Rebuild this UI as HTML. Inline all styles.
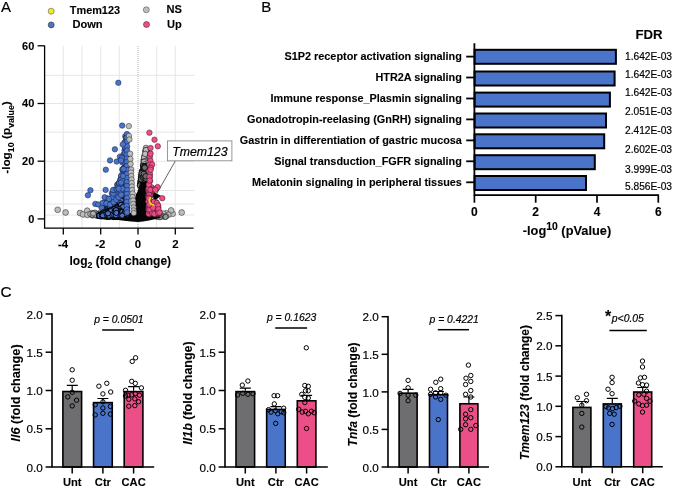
<!DOCTYPE html>
<html><head><meta charset="utf-8"><title>Figure</title>
<style>
html,body{margin:0;padding:0;background:#fff;}
body{width:673px;height:488px;overflow:hidden;font-family:"Liberation Sans",sans-serif;}
svg{display:block;}
text{font-family:"Liberation Sans",sans-serif;fill:#000;}
svg{will-change:transform;}
text{stroke:#000;stroke-width:0.18px;}
.b{font-weight:bold;stroke-width:0.1px;}
.i{font-style:italic;}
</style></head><body>
<svg width="673" height="488" viewBox="0 0 673 488">
<rect width="673" height="488" fill="#fff"/>
<text x="0.9" y="11.8" font-size="15">A</text>
<text x="261.2" y="11.7" font-size="15">B</text>
<text x="0.6" y="296.5" font-size="15.3">C</text>
<g id="A">
<circle cx="51.2" cy="11.2" r="3.0" fill="#f5ee1f" stroke="#555" stroke-width="0.6"/>
<circle cx="51.2" cy="24.9" r="3.0" fill="#4a74c9" stroke="#333" stroke-width="0.6"/>
<circle cx="146.3" cy="9.8" r="3.0" fill="#bdbdbd" stroke="#555" stroke-width="0.6"/>
<circle cx="146.5" cy="24.5" r="3.0" fill="#ec4f88" stroke="#333" stroke-width="0.6"/>
<text class="b" x="69.8" y="13.9" font-size="10.9">Tmem123</text>
<text class="b" x="72.4" y="28" font-size="11.1">Down</text>
<text class="b" x="166.5" y="13" font-size="11.1">NS</text>
<text class="b" x="167" y="27.8" font-size="11.1">Up</text>
<line x1="63.3" y1="46.0" x2="63.3" y2="228.1" stroke="#e3e3e3" stroke-width="0.9"/>
<line x1="82.0" y1="46.0" x2="82.0" y2="228.1" stroke="#e3e3e3" stroke-width="0.9"/>
<line x1="100.7" y1="46.0" x2="100.7" y2="228.1" stroke="#e3e3e3" stroke-width="0.9"/>
<line x1="119.3" y1="46.0" x2="119.3" y2="228.1" stroke="#e3e3e3" stroke-width="0.9"/>
<line x1="156.7" y1="46.0" x2="156.7" y2="228.1" stroke="#e3e3e3" stroke-width="0.9"/>
<line x1="175.3" y1="46.0" x2="175.3" y2="228.1" stroke="#e3e3e3" stroke-width="0.9"/>
<line x1="44.6" y1="75.3" x2="194.4" y2="75.3" stroke="#e3e3e3" stroke-width="0.9"/>
<line x1="44.6" y1="103.5" x2="194.4" y2="103.5" stroke="#e3e3e3" stroke-width="0.9"/>
<line x1="44.6" y1="132.2" x2="194.4" y2="132.2" stroke="#e3e3e3" stroke-width="0.9"/>
<line x1="44.6" y1="161.3" x2="194.4" y2="161.3" stroke="#e3e3e3" stroke-width="0.9"/>
<line x1="44.6" y1="190.5" x2="194.4" y2="190.5" stroke="#e3e3e3" stroke-width="0.9"/>
<line x1="44.6" y1="204.0" x2="194.4" y2="204.0" stroke="#e3e3e3" stroke-width="0.9"/>
<line x1="44.6" y1="215.0" x2="194.4" y2="215.0" stroke="#c8c8c8" stroke-width="0.9" stroke-dasharray="1 1"/>
<line x1="138.0" y1="46.0" x2="138.0" y2="228.1" stroke="#aaa" stroke-width="0.9" stroke-dasharray="1 1"/>
<g fill="#bdbdbd" stroke="#2a2a2a" stroke-width="0.55">
<circle cx="57.7" cy="209.8" r="2.9"/>
<circle cx="65.6" cy="212.5" r="2.9"/>
<circle cx="80.0" cy="213.0" r="2.9"/>
<circle cx="83.0" cy="214.4" r="2.9"/>
<circle cx="87.2" cy="210.7" r="2.9"/>
<circle cx="87.4" cy="214.9" r="2.9"/>
<circle cx="91.6" cy="213.2" r="2.9"/>
<circle cx="95.3" cy="213.4" r="2.9"/>
<circle cx="98.5" cy="214.3" r="2.9"/>
<circle cx="93.0" cy="215.3" r="2.9"/>
<circle cx="100.5" cy="212.6" r="2.9"/>
<circle cx="103.0" cy="214.6" r="2.9"/>
<circle cx="106.0" cy="213.6" r="2.9"/>
<circle cx="109.0" cy="215.0" r="2.9"/>
<circle cx="112.0" cy="214.2" r="2.9"/>
<circle cx="181.7" cy="212.5" r="2.9"/>
<circle cx="172.6" cy="213.8" r="2.9"/>
<circle cx="171.1" cy="210.4" r="2.9"/>
<circle cx="166.4" cy="213.3" r="2.9"/>
<circle cx="168.3" cy="214.8" r="2.9"/>
<circle cx="163.2" cy="213.6" r="2.9"/>
<circle cx="165.9" cy="216.2" r="2.9"/>
<circle cx="160.5" cy="214.6" r="2.9"/>
</g>
<g fill="#9c9c9c" stroke="#111" stroke-width="0.7">
<circle cx="158.5" cy="215.2" r="2.6"/>
<circle cx="161.0" cy="216.3" r="2.6"/>
<circle cx="163.4" cy="216.6" r="2.6"/>
<circle cx="160.0" cy="217.2" r="2.6"/>
<circle cx="157.0" cy="216.8" r="2.6"/>
<circle cx="165.6" cy="216.9" r="2.6"/>
</g>
<g fill="#bdbdbd" stroke="#000" stroke-width="0.5">
<circle cx="145.4" cy="161.5" r="2.75"/>
<circle cx="145.1" cy="156.8" r="2.75"/>
<circle cx="146.6" cy="156.6" r="2.75"/>
<circle cx="143.7" cy="160.2" r="2.75"/>
<circle cx="144.4" cy="161.7" r="2.75"/>
<circle cx="146.0" cy="152.2" r="2.75"/>
<circle cx="143.1" cy="165.8" r="2.75"/>
<circle cx="145.9" cy="147.9" r="2.75"/>
<circle cx="146.2" cy="155.5" r="2.75"/>
<circle cx="145.3" cy="156.4" r="2.75"/>
<circle cx="144.8" cy="158.2" r="2.75"/>
<circle cx="144.3" cy="157.2" r="2.75"/>
<circle cx="146.2" cy="161.7" r="2.75"/>
<circle cx="146.0" cy="158.9" r="2.75"/>
<circle cx="145.4" cy="158.1" r="2.75"/>
<circle cx="144.4" cy="162.7" r="2.75"/>
<circle cx="144.8" cy="162.6" r="2.75"/>
<circle cx="147.2" cy="157.2" r="2.75"/>
<circle cx="144.3" cy="162.7" r="2.75"/>
<circle cx="146.0" cy="156.6" r="2.75"/>
<circle cx="145.6" cy="164.0" r="2.75"/>
<circle cx="144.1" cy="161.4" r="2.75"/>
<circle cx="143.9" cy="164.2" r="2.75"/>
<circle cx="147.0" cy="162.0" r="2.75"/>
<circle cx="147.1" cy="153.0" r="2.75"/>
<circle cx="146.0" cy="163.8" r="2.75"/>
<circle cx="146.5" cy="164.5" r="2.75"/>
<circle cx="146.2" cy="161.0" r="2.75"/>
<circle cx="145.1" cy="155.2" r="2.75"/>
<circle cx="145.7" cy="150.8" r="2.75"/>
<circle cx="144.9" cy="161.1" r="2.75"/>
<circle cx="143.9" cy="159.4" r="2.75"/>
<circle cx="147.0" cy="150.9" r="2.75"/>
<circle cx="146.4" cy="151.3" r="2.75"/>
<circle cx="145.9" cy="155.7" r="2.75"/>
<circle cx="146.2" cy="156.0" r="2.75"/>
<circle cx="146.5" cy="156.2" r="2.75"/>
<circle cx="146.3" cy="152.2" r="2.75"/>
<circle cx="143.1" cy="164.5" r="2.75"/>
<circle cx="144.0" cy="162.3" r="2.75"/>
<circle cx="145.0" cy="162.1" r="2.75"/>
<circle cx="145.5" cy="159.1" r="2.75"/>
<circle cx="143.6" cy="165.3" r="2.75"/>
<circle cx="144.9" cy="162.8" r="2.75"/>
<circle cx="144.5" cy="155.6" r="2.75"/>
<circle cx="145.4" cy="151.1" r="2.75"/>
<circle cx="144.0" cy="159.4" r="2.75"/>
<circle cx="146.2" cy="150.0" r="2.75"/>
<circle cx="144.4" cy="165.1" r="2.75"/>
<circle cx="145.4" cy="158.8" r="2.75"/>
<circle cx="146.8" cy="162.7" r="2.75"/>
<circle cx="145.6" cy="156.1" r="2.75"/>
<circle cx="144.3" cy="159.4" r="2.75"/>
<circle cx="145.3" cy="163.1" r="2.75"/>
<circle cx="146.0" cy="165.8" r="2.75"/>
<circle cx="146.6" cy="162.5" r="2.75"/>
<circle cx="145.0" cy="165.0" r="2.75"/>
<circle cx="145.4" cy="158.7" r="2.75"/>
<circle cx="145.8" cy="161.8" r="2.75"/>
<circle cx="144.3" cy="161.9" r="2.75"/>
<circle cx="146.4" cy="157.5" r="2.75"/>
<circle cx="145.6" cy="158.4" r="2.75"/>
<circle cx="143.9" cy="164.3" r="2.75"/>
<circle cx="145.8" cy="162.3" r="2.75"/>
<circle cx="147.2" cy="162.9" r="2.75"/>
<circle cx="146.1" cy="163.8" r="2.75"/>
<circle cx="143.4" cy="164.6" r="2.75"/>
<circle cx="145.6" cy="150.9" r="2.75"/>
<circle cx="143.7" cy="161.7" r="2.75"/>
<circle cx="144.2" cy="157.5" r="2.75"/>
<circle cx="144.3" cy="161.5" r="2.75"/>
<circle cx="147.1" cy="154.8" r="2.75"/>
<circle cx="145.2" cy="161.3" r="2.75"/>
<circle cx="144.0" cy="161.9" r="2.75"/>
<circle cx="146.8" cy="164.6" r="2.75"/>
<circle cx="146.0" cy="150.0" r="2.75"/>
<circle cx="147.0" cy="163.5" r="2.75"/>
<circle cx="144.7" cy="164.5" r="2.75"/>
<circle cx="145.2" cy="153.9" r="2.75"/>
</g>
<g fill="#6f6f6f" stroke="#000" stroke-width="0.8">
<circle cx="144.9" cy="171.4" r="2.75"/>
<circle cx="143.3" cy="184.2" r="2.75"/>
<circle cx="144.9" cy="173.1" r="2.75"/>
<circle cx="145.9" cy="176.7" r="2.75"/>
<circle cx="141.1" cy="178.4" r="2.75"/>
<circle cx="146.9" cy="185.6" r="2.75"/>
<circle cx="144.8" cy="177.3" r="2.75"/>
<circle cx="141.9" cy="173.8" r="2.75"/>
<circle cx="146.4" cy="171.0" r="2.75"/>
<circle cx="145.2" cy="173.5" r="2.75"/>
<circle cx="145.3" cy="172.9" r="2.75"/>
<circle cx="143.4" cy="171.6" r="2.75"/>
<circle cx="147.2" cy="185.9" r="2.75"/>
<circle cx="145.2" cy="182.2" r="2.75"/>
<circle cx="143.7" cy="166.8" r="2.75"/>
<circle cx="143.2" cy="180.3" r="2.75"/>
<circle cx="142.9" cy="182.3" r="2.75"/>
<circle cx="146.1" cy="185.0" r="2.75"/>
<circle cx="143.4" cy="183.9" r="2.75"/>
<circle cx="142.7" cy="185.5" r="2.75"/>
<circle cx="142.3" cy="180.6" r="2.75"/>
<circle cx="145.4" cy="185.2" r="2.75"/>
<circle cx="141.6" cy="181.1" r="2.75"/>
<circle cx="144.0" cy="174.7" r="2.75"/>
<circle cx="145.7" cy="185.3" r="2.75"/>
<circle cx="146.7" cy="166.3" r="2.75"/>
<circle cx="144.7" cy="182.5" r="2.75"/>
<circle cx="142.7" cy="180.5" r="2.75"/>
<circle cx="143.1" cy="166.1" r="2.75"/>
<circle cx="144.6" cy="168.8" r="2.75"/>
<circle cx="143.4" cy="185.0" r="2.75"/>
<circle cx="146.4" cy="175.1" r="2.75"/>
<circle cx="145.9" cy="183.8" r="2.75"/>
<circle cx="146.8" cy="179.6" r="2.75"/>
<circle cx="144.4" cy="183.2" r="2.75"/>
<circle cx="142.6" cy="170.4" r="2.75"/>
<circle cx="143.0" cy="175.7" r="2.75"/>
<circle cx="146.3" cy="174.7" r="2.75"/>
<circle cx="142.9" cy="176.2" r="2.75"/>
<circle cx="141.4" cy="184.1" r="2.75"/>
<circle cx="142.3" cy="171.2" r="2.75"/>
<circle cx="142.1" cy="175.0" r="2.75"/>
<circle cx="146.7" cy="168.4" r="2.75"/>
<circle cx="144.6" cy="185.5" r="2.75"/>
<circle cx="144.6" cy="178.3" r="2.75"/>
<circle cx="147.0" cy="178.6" r="2.75"/>
<circle cx="145.7" cy="172.4" r="2.75"/>
<circle cx="147.2" cy="166.9" r="2.75"/>
<circle cx="146.5" cy="179.6" r="2.75"/>
<circle cx="145.3" cy="179.6" r="2.75"/>
<circle cx="146.6" cy="181.0" r="2.75"/>
<circle cx="145.7" cy="168.1" r="2.75"/>
<circle cx="146.3" cy="183.7" r="2.75"/>
<circle cx="146.1" cy="170.3" r="2.75"/>
<circle cx="144.2" cy="182.8" r="2.75"/>
<circle cx="143.5" cy="176.5" r="2.75"/>
<circle cx="144.9" cy="175.3" r="2.75"/>
<circle cx="146.3" cy="185.8" r="2.75"/>
<circle cx="143.2" cy="179.3" r="2.75"/>
<circle cx="144.5" cy="179.5" r="2.75"/>
<circle cx="146.4" cy="171.0" r="2.75"/>
<circle cx="143.0" cy="172.3" r="2.75"/>
<circle cx="144.0" cy="178.5" r="2.75"/>
<circle cx="146.7" cy="176.2" r="2.75"/>
<circle cx="145.8" cy="166.2" r="2.75"/>
<circle cx="144.8" cy="183.8" r="2.75"/>
<circle cx="146.6" cy="171.1" r="2.75"/>
<circle cx="145.7" cy="167.2" r="2.75"/>
<circle cx="146.6" cy="181.3" r="2.75"/>
<circle cx="142.8" cy="183.2" r="2.75"/>
<circle cx="143.2" cy="175.4" r="2.75"/>
<circle cx="146.2" cy="182.1" r="2.75"/>
<circle cx="146.9" cy="178.9" r="2.75"/>
<circle cx="143.4" cy="171.4" r="2.75"/>
<circle cx="144.1" cy="176.6" r="2.75"/>
<circle cx="146.5" cy="166.8" r="2.75"/>
<circle cx="143.1" cy="185.6" r="2.75"/>
<circle cx="140.4" cy="183.0" r="2.75"/>
<circle cx="144.4" cy="178.8" r="2.75"/>
<circle cx="146.3" cy="166.5" r="2.75"/>
<circle cx="142.1" cy="171.5" r="2.75"/>
<circle cx="141.9" cy="181.9" r="2.75"/>
<circle cx="143.8" cy="176.7" r="2.75"/>
<circle cx="145.1" cy="176.7" r="2.75"/>
<circle cx="146.9" cy="181.4" r="2.75"/>
<circle cx="142.2" cy="178.2" r="2.75"/>
<circle cx="142.8" cy="172.1" r="2.75"/>
<circle cx="141.9" cy="179.0" r="2.75"/>
<circle cx="144.2" cy="178.5" r="2.75"/>
<circle cx="145.7" cy="176.2" r="2.75"/>
<circle cx="146.2" cy="169.5" r="2.75"/>
<circle cx="140.6" cy="183.8" r="2.75"/>
<circle cx="145.2" cy="184.4" r="2.75"/>
<circle cx="146.7" cy="176.6" r="2.75"/>
<circle cx="145.1" cy="168.9" r="2.75"/>
<circle cx="145.8" cy="183.1" r="2.75"/>
<circle cx="143.3" cy="184.7" r="2.75"/>
<circle cx="142.3" cy="177.3" r="2.75"/>
<circle cx="146.0" cy="179.2" r="2.75"/>
<circle cx="145.5" cy="177.0" r="2.75"/>
<circle cx="147.0" cy="185.5" r="2.75"/>
<circle cx="146.0" cy="174.0" r="2.75"/>
<circle cx="146.8" cy="166.9" r="2.75"/>
<circle cx="142.6" cy="182.6" r="2.75"/>
<circle cx="145.9" cy="174.4" r="2.75"/>
<circle cx="141.9" cy="172.5" r="2.75"/>
<circle cx="140.8" cy="181.4" r="2.75"/>
<circle cx="141.6" cy="181.2" r="2.75"/>
<circle cx="146.2" cy="167.5" r="2.75"/>
<circle cx="145.7" cy="173.4" r="2.75"/>
<circle cx="145.0" cy="182.2" r="2.75"/>
<circle cx="143.5" cy="184.7" r="2.75"/>
<circle cx="140.5" cy="184.8" r="2.75"/>
<circle cx="144.3" cy="176.9" r="2.75"/>
<circle cx="144.1" cy="182.3" r="2.75"/>
<circle cx="144.4" cy="166.6" r="2.75"/>
<circle cx="146.5" cy="182.3" r="2.75"/>
<circle cx="143.7" cy="185.3" r="2.75"/>
<circle cx="142.5" cy="175.1" r="2.75"/>
<circle cx="144.4" cy="174.0" r="2.75"/>
<circle cx="141.4" cy="176.0" r="2.75"/>
<circle cx="143.6" cy="185.3" r="2.75"/>
<circle cx="146.2" cy="169.7" r="2.75"/>
<circle cx="144.3" cy="174.8" r="2.75"/>
<circle cx="141.3" cy="178.3" r="2.75"/>
<circle cx="143.9" cy="174.1" r="2.75"/>
<circle cx="146.6" cy="185.0" r="2.75"/>
<circle cx="146.5" cy="181.6" r="2.75"/>
<circle cx="143.5" cy="172.2" r="2.75"/>
<circle cx="140.9" cy="184.2" r="2.75"/>
<circle cx="140.7" cy="180.6" r="2.75"/>
<circle cx="142.9" cy="178.2" r="2.75"/>
<circle cx="145.4" cy="168.2" r="2.75"/>
<circle cx="144.0" cy="173.8" r="2.75"/>
<circle cx="144.3" cy="168.9" r="2.75"/>
<circle cx="142.5" cy="173.8" r="2.75"/>
<circle cx="144.3" cy="176.9" r="2.75"/>
<circle cx="144.5" cy="182.5" r="2.75"/>
<circle cx="141.8" cy="182.6" r="2.75"/>
<circle cx="146.0" cy="179.7" r="2.75"/>
<circle cx="142.3" cy="183.7" r="2.75"/>
<circle cx="146.9" cy="166.8" r="2.75"/>
<circle cx="141.0" cy="183.3" r="2.75"/>
<circle cx="143.2" cy="182.0" r="2.75"/>
<circle cx="141.3" cy="180.9" r="2.75"/>
<circle cx="145.6" cy="169.8" r="2.75"/>
<circle cx="146.6" cy="178.1" r="2.75"/>
<circle cx="140.6" cy="185.3" r="2.75"/>
<circle cx="145.9" cy="173.1" r="2.75"/>
<circle cx="145.5" cy="173.0" r="2.75"/>
<circle cx="144.4" cy="174.4" r="2.75"/>
<circle cx="142.2" cy="174.9" r="2.75"/>
<circle cx="147.1" cy="182.2" r="2.75"/>
<circle cx="140.6" cy="184.3" r="2.75"/>
<circle cx="146.0" cy="171.7" r="2.75"/>
<circle cx="144.8" cy="167.2" r="2.75"/>
<circle cx="144.0" cy="173.4" r="2.75"/>
<circle cx="141.3" cy="175.9" r="2.75"/>
<circle cx="146.2" cy="178.6" r="2.75"/>
<circle cx="143.3" cy="179.6" r="2.75"/>
<circle cx="141.7" cy="173.3" r="2.75"/>
<circle cx="145.8" cy="183.5" r="2.75"/>
<circle cx="146.3" cy="178.7" r="2.75"/>
<circle cx="143.6" cy="176.7" r="2.75"/>
<circle cx="144.3" cy="175.8" r="2.75"/>
<circle cx="145.7" cy="185.6" r="2.75"/>
<circle cx="145.7" cy="179.8" r="2.75"/>
<circle cx="143.1" cy="181.5" r="2.75"/>
<circle cx="146.3" cy="183.6" r="2.75"/>
<circle cx="145.7" cy="178.4" r="2.75"/>
<circle cx="143.3" cy="180.3" r="2.75"/>
<circle cx="141.2" cy="179.2" r="2.75"/>
<circle cx="144.7" cy="167.7" r="2.75"/>
<circle cx="144.9" cy="176.9" r="2.75"/>
<circle cx="143.1" cy="177.7" r="2.75"/>
<circle cx="144.5" cy="177.5" r="2.75"/>
<circle cx="143.8" cy="173.9" r="2.75"/>
<circle cx="144.5" cy="186.0" r="2.75"/>
<circle cx="145.7" cy="178.6" r="2.75"/>
<circle cx="139.9" cy="185.5" r="2.75"/>
<circle cx="145.6" cy="176.3" r="2.75"/>
</g>
<path d="M106 217.2 L112 216.2 L118 215.6 L123 214.8 L127 213.6 L130 212.8 L132.4 212.6 L133.6 206 L134.6 200 L135.9 194.5 L137.5 191.4 L138.6 188 L139.6 184.8 L141 181.8 L146.9 181.5 L147.2 211 L150 214.6 L155 216.2 L163 216.8 L156 219 L149 220.6 L143 221.6 L138 222 L131 221.6 L120 220.3 L111 218.6 Z" fill="#040404"/>
<g fill="#4a74c9" stroke="#0b1230" stroke-width="0.45">
<circle cx="125.4" cy="213.8" r="2.75"/>
<circle cx="114.8" cy="212.4" r="2.75"/>
<circle cx="118.3" cy="213.8" r="2.75"/>
<circle cx="108.9" cy="214.0" r="2.75"/>
<circle cx="113.9" cy="212.8" r="2.75"/>
<circle cx="105.3" cy="210.2" r="2.75"/>
<circle cx="106.4" cy="212.6" r="2.75"/>
<circle cx="111.1" cy="210.4" r="2.75"/>
<circle cx="117.8" cy="212.5" r="2.75"/>
<circle cx="117.6" cy="211.2" r="2.75"/>
<circle cx="118.4" cy="212.0" r="2.75"/>
<circle cx="112.5" cy="210.2" r="2.75"/>
<circle cx="119.9" cy="209.3" r="2.75"/>
<circle cx="116.1" cy="213.7" r="2.75"/>
<circle cx="116.7" cy="212.1" r="2.75"/>
<circle cx="124.9" cy="209.5" r="2.75"/>
<circle cx="126.0" cy="210.3" r="2.75"/>
<circle cx="119.9" cy="214.0" r="2.75"/>
<circle cx="108.7" cy="210.8" r="2.75"/>
<circle cx="106.9" cy="208.4" r="2.75"/>
<circle cx="118.1" cy="208.4" r="2.75"/>
<circle cx="115.4" cy="211.5" r="2.75"/>
<circle cx="121.2" cy="211.9" r="2.75"/>
<circle cx="114.9" cy="207.8" r="2.75"/>
<circle cx="118.7" cy="211.9" r="2.75"/>
<circle cx="121.4" cy="204.7" r="2.75"/>
<circle cx="108.0" cy="204.3" r="2.75"/>
<circle cx="117.1" cy="208.5" r="2.75"/>
<circle cx="117.9" cy="208.2" r="2.75"/>
<circle cx="114.2" cy="212.6" r="2.75"/>
<circle cx="116.3" cy="207.8" r="2.75"/>
<circle cx="110.3" cy="207.9" r="2.75"/>
<circle cx="111.8" cy="211.8" r="2.75"/>
<circle cx="114.3" cy="202.1" r="2.75"/>
<circle cx="119.4" cy="205.8" r="2.75"/>
<circle cx="106.5" cy="212.0" r="2.75"/>
<circle cx="124.3" cy="209.0" r="2.75"/>
<circle cx="110.9" cy="200.5" r="2.75"/>
<circle cx="120.0" cy="200.7" r="2.75"/>
<circle cx="103.1" cy="206.5" r="2.75"/>
<circle cx="121.5" cy="200.7" r="2.75"/>
<circle cx="111.3" cy="205.0" r="2.75"/>
<circle cx="114.9" cy="202.1" r="2.75"/>
<circle cx="110.7" cy="205.8" r="2.75"/>
<circle cx="104.4" cy="209.6" r="2.75"/>
<circle cx="118.6" cy="199.7" r="2.75"/>
<circle cx="119.7" cy="202.5" r="2.75"/>
<circle cx="109.4" cy="202.2" r="2.75"/>
<circle cx="124.7" cy="206.8" r="2.75"/>
<circle cx="120.8" cy="202.8" r="2.75"/>
<circle cx="123.7" cy="200.7" r="2.75"/>
<circle cx="120.3" cy="200.7" r="2.75"/>
<circle cx="107.4" cy="202.6" r="2.75"/>
<circle cx="105.8" cy="203.5" r="2.75"/>
<circle cx="101.6" cy="207.4" r="2.75"/>
<circle cx="110.2" cy="205.4" r="2.75"/>
<circle cx="126.3" cy="202.7" r="2.75"/>
<circle cx="124.9" cy="196.9" r="2.75"/>
<circle cx="121.0" cy="195.6" r="2.75"/>
<circle cx="115.3" cy="201.1" r="2.75"/>
<circle cx="126.4" cy="203.7" r="2.75"/>
<circle cx="108.2" cy="200.5" r="2.75"/>
<circle cx="123.1" cy="204.2" r="2.75"/>
<circle cx="122.8" cy="197.8" r="2.75"/>
<circle cx="120.0" cy="197.4" r="2.75"/>
<circle cx="119.7" cy="196.5" r="2.75"/>
<circle cx="125.4" cy="198.8" r="2.75"/>
<circle cx="124.9" cy="199.0" r="2.75"/>
<circle cx="126.3" cy="203.3" r="2.75"/>
<circle cx="121.4" cy="196.1" r="2.75"/>
<circle cx="124.4" cy="196.0" r="2.75"/>
<circle cx="105.3" cy="202.1" r="2.75"/>
<circle cx="108.0" cy="201.1" r="2.75"/>
<circle cx="107.0" cy="198.3" r="2.75"/>
<circle cx="115.7" cy="204.1" r="2.75"/>
<circle cx="113.8" cy="196.9" r="2.75"/>
<circle cx="104.1" cy="202.8" r="2.75"/>
<circle cx="106.8" cy="202.6" r="2.75"/>
<circle cx="117.3" cy="198.7" r="2.75"/>
<circle cx="110.4" cy="199.4" r="2.75"/>
<circle cx="115.7" cy="199.3" r="2.75"/>
<circle cx="118.5" cy="190.3" r="2.75"/>
<circle cx="126.1" cy="191.5" r="2.75"/>
<circle cx="117.1" cy="201.3" r="2.75"/>
<circle cx="117.0" cy="196.5" r="2.75"/>
<circle cx="116.9" cy="198.1" r="2.75"/>
<circle cx="126.3" cy="200.6" r="2.75"/>
<circle cx="118.9" cy="192.6" r="2.75"/>
<circle cx="120.5" cy="189.6" r="2.75"/>
<circle cx="126.1" cy="191.6" r="2.75"/>
<circle cx="118.0" cy="194.8" r="2.75"/>
<circle cx="119.3" cy="194.5" r="2.75"/>
<circle cx="122.2" cy="195.3" r="2.75"/>
<circle cx="119.0" cy="195.3" r="2.75"/>
<circle cx="118.6" cy="191.2" r="2.75"/>
<circle cx="121.3" cy="188.2" r="2.75"/>
<circle cx="118.5" cy="198.8" r="2.75"/>
<circle cx="115.1" cy="192.9" r="2.75"/>
<circle cx="115.5" cy="194.8" r="2.75"/>
<circle cx="125.0" cy="190.2" r="2.75"/>
<circle cx="122.3" cy="195.4" r="2.75"/>
<circle cx="119.5" cy="188.3" r="2.75"/>
<circle cx="124.4" cy="197.7" r="2.75"/>
<circle cx="124.2" cy="191.2" r="2.75"/>
<circle cx="115.8" cy="197.6" r="2.75"/>
<circle cx="121.8" cy="192.8" r="2.75"/>
<circle cx="121.6" cy="193.5" r="2.75"/>
<circle cx="119.6" cy="188.2" r="2.75"/>
<circle cx="115.7" cy="192.0" r="2.75"/>
<circle cx="111.8" cy="193.3" r="2.75"/>
<circle cx="112.2" cy="197.3" r="2.75"/>
<circle cx="116.8" cy="196.4" r="2.75"/>
<circle cx="117.3" cy="184.7" r="2.75"/>
<circle cx="118.1" cy="188.4" r="2.75"/>
<circle cx="117.1" cy="189.9" r="2.75"/>
<circle cx="115.8" cy="191.3" r="2.75"/>
<circle cx="124.6" cy="185.0" r="2.75"/>
<circle cx="124.3" cy="194.6" r="2.75"/>
<circle cx="115.7" cy="191.8" r="2.75"/>
<circle cx="126.4" cy="193.1" r="2.75"/>
<circle cx="116.9" cy="192.8" r="2.75"/>
<circle cx="121.0" cy="186.0" r="2.75"/>
<circle cx="113.3" cy="193.5" r="2.75"/>
<circle cx="120.1" cy="188.6" r="2.75"/>
<circle cx="123.9" cy="192.2" r="2.75"/>
<circle cx="114.4" cy="189.9" r="2.75"/>
<circle cx="120.7" cy="192.9" r="2.75"/>
<circle cx="118.2" cy="190.5" r="2.75"/>
<circle cx="113.0" cy="189.9" r="2.75"/>
<circle cx="123.2" cy="182.8" r="2.75"/>
<circle cx="120.1" cy="185.4" r="2.75"/>
<circle cx="120.6" cy="185.7" r="2.75"/>
<circle cx="125.9" cy="190.0" r="2.75"/>
<circle cx="125.2" cy="182.6" r="2.75"/>
<circle cx="120.9" cy="190.6" r="2.75"/>
<circle cx="117.6" cy="184.8" r="2.75"/>
<circle cx="116.6" cy="188.9" r="2.75"/>
<circle cx="119.1" cy="186.4" r="2.75"/>
<circle cx="121.1" cy="186.5" r="2.75"/>
<circle cx="125.8" cy="182.9" r="2.75"/>
<circle cx="120.7" cy="187.9" r="2.75"/>
<circle cx="119.6" cy="182.7" r="2.75"/>
<circle cx="117.9" cy="187.2" r="2.75"/>
<circle cx="126.4" cy="185.0" r="2.75"/>
<circle cx="119.2" cy="182.6" r="2.75"/>
<circle cx="124.8" cy="175.1" r="2.75"/>
<circle cx="126.3" cy="177.3" r="2.75"/>
<circle cx="122.1" cy="178.4" r="2.75"/>
<circle cx="122.1" cy="177.8" r="2.75"/>
<circle cx="126.1" cy="178.4" r="2.75"/>
<circle cx="121.3" cy="176.6" r="2.75"/>
<circle cx="125.4" cy="182.2" r="2.75"/>
<circle cx="119.7" cy="184.7" r="2.75"/>
<circle cx="123.3" cy="172.5" r="2.75"/>
<circle cx="121.1" cy="180.0" r="2.75"/>
<circle cx="119.2" cy="182.8" r="2.75"/>
<circle cx="124.3" cy="177.6" r="2.75"/>
<circle cx="123.1" cy="175.2" r="2.75"/>
<circle cx="125.6" cy="176.6" r="2.75"/>
<circle cx="120.2" cy="179.7" r="2.75"/>
<circle cx="121.5" cy="178.5" r="2.75"/>
<circle cx="121.2" cy="175.6" r="2.75"/>
<circle cx="122.9" cy="178.2" r="2.75"/>
<circle cx="124.7" cy="180.2" r="2.75"/>
<circle cx="125.2" cy="177.0" r="2.75"/>
<circle cx="123.0" cy="169.9" r="2.75"/>
<circle cx="121.2" cy="179.4" r="2.75"/>
<circle cx="123.6" cy="179.8" r="2.75"/>
<circle cx="125.5" cy="173.9" r="2.75"/>
<circle cx="126.1" cy="171.5" r="2.75"/>
<circle cx="124.5" cy="172.9" r="2.75"/>
<circle cx="122.7" cy="170.2" r="2.75"/>
<circle cx="125.5" cy="174.3" r="2.75"/>
<circle cx="126.4" cy="171.5" r="2.75"/>
<circle cx="124.6" cy="163.9" r="2.75"/>
<circle cx="124.0" cy="168.1" r="2.75"/>
<circle cx="122.4" cy="169.3" r="2.75"/>
<circle cx="122.6" cy="162.6" r="2.75"/>
<circle cx="123.4" cy="168.9" r="2.75"/>
<circle cx="124.0" cy="161.3" r="2.75"/>
<circle cx="123.4" cy="155.1" r="2.75"/>
<circle cx="124.5" cy="160.0" r="2.75"/>
<circle cx="126.3" cy="161.0" r="2.75"/>
<circle cx="125.5" cy="162.7" r="2.75"/>
<circle cx="125.0" cy="154.4" r="2.75"/>
<circle cx="126.2" cy="153.7" r="2.75"/>
<circle cx="126.3" cy="159.7" r="2.75"/>
<circle cx="124.9" cy="154.9" r="2.75"/>
<circle cx="124.9" cy="158.6" r="2.75"/>
<circle cx="124.5" cy="150.4" r="2.75"/>
<circle cx="125.3" cy="148.0" r="2.75"/>
<circle cx="126.2" cy="148.2" r="2.75"/>
<circle cx="123.6" cy="154.6" r="2.75"/>
<circle cx="125.2" cy="144.3" r="2.75"/>
<circle cx="125.1" cy="153.0" r="2.75"/>
<circle cx="126.0" cy="141.0" r="2.75"/>
<circle cx="124.7" cy="146.5" r="2.75"/>
<circle cx="124.5" cy="142.4" r="2.75"/>
<circle cx="125.3" cy="136.3" r="2.75"/>
<circle cx="125.9" cy="138.2" r="2.75"/>
</g>
<g fill="#9a9a9a" stroke="#000" stroke-width="0.6">
<circle cx="102.5" cy="212.7" r="2.5"/>
<circle cx="103.4" cy="216.4" r="2.5"/>
<circle cx="110.4" cy="212.4" r="2.5"/>
</g>
<g fill="#b4b4b4" stroke="#000" stroke-width="0.45">
<circle cx="92.9" cy="213.4" r="2.5"/>
</g>
<g fill="#9a9a9a" stroke="#000" stroke-width="0.6">
<circle cx="107.3" cy="214.1" r="2.5"/>
</g>
<g fill="#b4b4b4" stroke="#000" stroke-width="0.45">
<circle cx="95.0" cy="214.1" r="2.5"/>
</g>
<g fill="#9a9a9a" stroke="#000" stroke-width="0.6">
<circle cx="105.2" cy="215.5" r="2.5"/>
<circle cx="101.9" cy="215.1" r="2.5"/>
<circle cx="107.1" cy="214.9" r="2.5"/>
</g>
<g fill="#b4b4b4" stroke="#000" stroke-width="0.45">
<circle cx="91.8" cy="215.3" r="2.5"/>
<circle cx="95.0" cy="212.4" r="2.5"/>
</g>
<g fill="#9a9a9a" stroke="#000" stroke-width="0.6">
<circle cx="103.3" cy="212.3" r="2.5"/>
</g>
<g fill="#b4b4b4" stroke="#000" stroke-width="0.45">
<circle cx="93.0" cy="213.9" r="2.5"/>
</g>
<g fill="#9a9a9a" stroke="#000" stroke-width="0.6">
<circle cx="103.2" cy="212.7" r="2.5"/>
<circle cx="111.3" cy="215.9" r="2.5"/>
<circle cx="103.6" cy="214.8" r="2.5"/>
<circle cx="100.0" cy="216.5" r="2.5"/>
</g>
<g fill="#b4b4b4" stroke="#000" stroke-width="0.45">
<circle cx="94.7" cy="213.5" r="2.5"/>
<circle cx="97.7" cy="216.0" r="2.5"/>
</g>
<g fill="#9a9a9a" stroke="#000" stroke-width="0.6">
<circle cx="104.0" cy="214.0" r="2.5"/>
<circle cx="101.8" cy="216.1" r="2.5"/>
<circle cx="98.6" cy="215.7" r="2.5"/>
<circle cx="107.5" cy="214.2" r="2.5"/>
<circle cx="101.1" cy="214.1" r="2.5"/>
<circle cx="102.9" cy="213.6" r="2.5"/>
<circle cx="106.1" cy="214.0" r="2.5"/>
<circle cx="99.7" cy="215.6" r="2.5"/>
<circle cx="103.0" cy="214.3" r="2.5"/>
<circle cx="110.2" cy="214.2" r="2.5"/>
<circle cx="101.3" cy="216.2" r="2.5"/>
<circle cx="111.7" cy="215.7" r="2.5"/>
<circle cx="101.9" cy="215.2" r="2.5"/>
<circle cx="108.0" cy="213.5" r="2.5"/>
<circle cx="107.8" cy="216.4" r="2.5"/>
<circle cx="106.6" cy="215.1" r="2.5"/>
<circle cx="102.6" cy="215.1" r="2.5"/>
</g>
<g fill="#b4b4b4" stroke="#000" stroke-width="0.45">
<circle cx="97.8" cy="215.6" r="2.5"/>
</g>
<g fill="#9a9a9a" stroke="#000" stroke-width="0.6">
<circle cx="104.6" cy="216.5" r="2.5"/>
<circle cx="100.6" cy="215.3" r="2.5"/>
</g>
<g fill="#b4b4b4" stroke="#000" stroke-width="0.45">
<circle cx="90.1" cy="214.0" r="2.5"/>
</g>
<g fill="#9a9a9a" stroke="#000" stroke-width="0.6">
<circle cx="108.5" cy="213.3" r="2.5"/>
<circle cx="105.9" cy="213.2" r="2.5"/>
<circle cx="101.8" cy="216.6" r="2.5"/>
</g>
<g fill="#b4b4b4" stroke="#000" stroke-width="0.45">
<circle cx="97.0" cy="216.2" r="2.5"/>
<circle cx="92.4" cy="214.8" r="2.5"/>
</g>
<g fill="#9a9a9a" stroke="#000" stroke-width="0.6">
<circle cx="109.3" cy="215.9" r="2.5"/>
<circle cx="101.7" cy="214.8" r="2.5"/>
<circle cx="107.6" cy="215.6" r="2.5"/>
<circle cx="108.1" cy="214.7" r="2.5"/>
<circle cx="98.5" cy="215.3" r="2.5"/>
<circle cx="105.0" cy="214.6" r="2.5"/>
<circle cx="111.8" cy="212.8" r="2.5"/>
<circle cx="108.7" cy="213.6" r="2.5"/>
<circle cx="107.8" cy="216.4" r="2.5"/>
<circle cx="99.0" cy="214.7" r="2.5"/>
<circle cx="104.4" cy="214.4" r="2.5"/>
</g>
<g fill="#b4b4b4" stroke="#000" stroke-width="0.45">
<circle cx="96.2" cy="215.0" r="2.5"/>
</g>
<g fill="#9a9a9a" stroke="#000" stroke-width="0.6">
<circle cx="110.4" cy="215.1" r="2.5"/>
<circle cx="99.4" cy="215.7" r="2.5"/>
<circle cx="102.3" cy="212.8" r="2.5"/>
<circle cx="105.8" cy="214.2" r="2.5"/>
<circle cx="104.4" cy="216.6" r="2.5"/>
<circle cx="105.1" cy="216.4" r="2.5"/>
<circle cx="100.8" cy="215.5" r="2.5"/>
</g>
<g fill="#b4b4b4" stroke="#000" stroke-width="0.45">
<circle cx="93.1" cy="213.5" r="2.5"/>
</g>
<g fill="#9a9a9a" stroke="#000" stroke-width="0.6">
<circle cx="107.2" cy="215.2" r="2.5"/>
<circle cx="109.4" cy="213.9" r="2.5"/>
<circle cx="99.0" cy="213.8" r="2.5"/>
<circle cx="104.5" cy="212.3" r="2.5"/>
<circle cx="101.3" cy="215.1" r="2.5"/>
</g>
<g fill="#0a0a0a" stroke="#000" stroke-width="0.4">
<circle cx="109.1" cy="215.8" r="2.3"/>
<circle cx="124.3" cy="217.2" r="2.3"/>
<circle cx="111.2" cy="215.3" r="2.3"/>
<circle cx="108.5" cy="215.3" r="2.3"/>
<circle cx="122.7" cy="216.5" r="2.3"/>
<circle cx="111.6" cy="216.1" r="2.3"/>
<circle cx="120.6" cy="213.9" r="2.3"/>
<circle cx="123.2" cy="216.9" r="2.3"/>
<circle cx="110.4" cy="216.7" r="2.3"/>
<circle cx="120.7" cy="215.1" r="2.3"/>
<circle cx="124.4" cy="214.3" r="2.3"/>
<circle cx="116.0" cy="215.3" r="2.3"/>
<circle cx="115.3" cy="216.9" r="2.3"/>
<circle cx="118.0" cy="216.2" r="2.3"/>
<circle cx="126.7" cy="214.2" r="2.3"/>
<circle cx="110.7" cy="216.5" r="2.3"/>
<circle cx="109.2" cy="217.4" r="2.3"/>
<circle cx="113.2" cy="215.9" r="2.3"/>
<circle cx="115.1" cy="217.0" r="2.3"/>
<circle cx="125.2" cy="216.2" r="2.3"/>
<circle cx="109.6" cy="215.8" r="2.3"/>
<circle cx="120.8" cy="214.6" r="2.3"/>
<circle cx="124.5" cy="217.0" r="2.3"/>
<circle cx="110.8" cy="215.8" r="2.3"/>
<circle cx="110.8" cy="216.7" r="2.3"/>
<circle cx="107.0" cy="216.8" r="2.3"/>
<circle cx="107.3" cy="217.1" r="2.3"/>
<circle cx="117.4" cy="216.1" r="2.3"/>
<circle cx="108.0" cy="215.2" r="2.3"/>
<circle cx="113.4" cy="217.5" r="2.3"/>
<circle cx="118.6" cy="217.0" r="2.3"/>
<circle cx="107.3" cy="215.4" r="2.3"/>
<circle cx="106.4" cy="216.8" r="2.3"/>
<circle cx="109.7" cy="215.6" r="2.3"/>
<circle cx="120.0" cy="216.4" r="2.3"/>
<circle cx="112.8" cy="216.0" r="2.3"/>
<circle cx="112.1" cy="216.3" r="2.3"/>
<circle cx="113.5" cy="215.6" r="2.3"/>
<circle cx="111.2" cy="215.6" r="2.3"/>
<circle cx="111.5" cy="214.8" r="2.3"/>
<circle cx="112.5" cy="216.3" r="2.3"/>
<circle cx="111.6" cy="215.0" r="2.3"/>
<circle cx="123.8" cy="215.4" r="2.3"/>
<circle cx="116.7" cy="215.2" r="2.3"/>
<circle cx="124.6" cy="216.5" r="2.3"/>
<circle cx="119.1" cy="216.3" r="2.3"/>
<circle cx="120.5" cy="215.7" r="2.3"/>
<circle cx="114.7" cy="215.6" r="2.3"/>
<circle cx="116.6" cy="215.8" r="2.3"/>
<circle cx="117.1" cy="216.0" r="2.3"/>
<circle cx="122.6" cy="217.1" r="2.3"/>
<circle cx="110.7" cy="214.9" r="2.3"/>
<circle cx="112.3" cy="214.8" r="2.3"/>
<circle cx="122.7" cy="216.0" r="2.3"/>
<circle cx="112.0" cy="215.2" r="2.3"/>
<circle cx="124.2" cy="216.8" r="2.3"/>
<circle cx="120.4" cy="216.4" r="2.3"/>
<circle cx="121.6" cy="215.4" r="2.3"/>
<circle cx="114.3" cy="216.1" r="2.3"/>
<circle cx="124.5" cy="217.5" r="2.3"/>
<circle cx="125.3" cy="216.8" r="2.3"/>
<circle cx="107.6" cy="215.7" r="2.3"/>
<circle cx="126.4" cy="215.6" r="2.3"/>
<circle cx="116.8" cy="215.2" r="2.3"/>
<circle cx="124.1" cy="215.6" r="2.3"/>
<circle cx="126.8" cy="213.5" r="2.3"/>
<circle cx="126.9" cy="213.3" r="2.3"/>
<circle cx="109.1" cy="216.0" r="2.3"/>
<circle cx="119.4" cy="214.3" r="2.3"/>
<circle cx="117.8" cy="217.3" r="2.3"/>
<circle cx="115.1" cy="216.8" r="2.3"/>
<circle cx="118.4" cy="216.1" r="2.3"/>
<circle cx="109.6" cy="216.1" r="2.3"/>
<circle cx="124.9" cy="216.2" r="2.3"/>
<circle cx="110.6" cy="216.0" r="2.3"/>
<circle cx="117.4" cy="215.3" r="2.3"/>
<circle cx="118.1" cy="216.2" r="2.3"/>
<circle cx="106.4" cy="215.8" r="2.3"/>
<circle cx="119.8" cy="214.7" r="2.3"/>
<circle cx="107.5" cy="216.9" r="2.3"/>
<circle cx="113.0" cy="217.4" r="2.3"/>
<circle cx="117.7" cy="214.5" r="2.3"/>
<circle cx="119.4" cy="214.9" r="2.3"/>
<circle cx="123.1" cy="216.4" r="2.3"/>
<circle cx="121.9" cy="213.9" r="2.3"/>
<circle cx="106.7" cy="217.0" r="2.3"/>
<circle cx="109.0" cy="215.5" r="2.3"/>
<circle cx="106.6" cy="215.6" r="2.3"/>
<circle cx="115.9" cy="217.4" r="2.3"/>
<circle cx="112.7" cy="215.4" r="2.3"/>
<circle cx="123.4" cy="214.3" r="2.3"/>
<circle cx="119.3" cy="216.1" r="2.3"/>
<circle cx="125.6" cy="213.5" r="2.3"/>
<circle cx="117.8" cy="215.4" r="2.3"/>
<circle cx="123.3" cy="214.6" r="2.3"/>
<circle cx="121.0" cy="214.5" r="2.3"/>
<circle cx="116.4" cy="217.4" r="2.3"/>
<circle cx="111.0" cy="215.6" r="2.3"/>
<circle cx="125.3" cy="216.2" r="2.3"/>
<circle cx="107.4" cy="215.6" r="2.3"/>
<circle cx="111.0" cy="215.6" r="2.3"/>
<circle cx="123.7" cy="216.3" r="2.3"/>
<circle cx="126.6" cy="216.1" r="2.3"/>
<circle cx="119.2" cy="215.3" r="2.3"/>
<circle cx="121.1" cy="215.6" r="2.3"/>
<circle cx="107.2" cy="216.3" r="2.3"/>
<circle cx="114.1" cy="216.1" r="2.3"/>
<circle cx="107.0" cy="215.3" r="2.3"/>
<circle cx="126.6" cy="214.8" r="2.3"/>
<circle cx="112.9" cy="215.0" r="2.3"/>
<circle cx="118.4" cy="217.2" r="2.3"/>
<circle cx="109.8" cy="216.2" r="2.3"/>
<circle cx="116.5" cy="216.7" r="2.3"/>
<circle cx="117.9" cy="214.9" r="2.3"/>
<circle cx="110.0" cy="216.8" r="2.3"/>
<circle cx="107.6" cy="217.2" r="2.3"/>
<circle cx="106.7" cy="215.7" r="2.3"/>
<circle cx="115.8" cy="217.0" r="2.3"/>
<circle cx="119.0" cy="216.6" r="2.3"/>
<circle cx="122.0" cy="216.4" r="2.3"/>
</g>
<g fill="#4a74c9" stroke="#02040f" stroke-width="0.75">
<circle cx="108.0" cy="212.8" r="2.6"/>
<circle cx="109.9" cy="208.0" r="2.6"/>
<circle cx="107.7" cy="207.2" r="2.6"/>
<circle cx="124.1" cy="206.4" r="2.6"/>
<circle cx="108.7" cy="207.0" r="2.6"/>
<circle cx="123.5" cy="209.4" r="2.6"/>
<circle cx="124.9" cy="199.2" r="2.6"/>
<circle cx="109.2" cy="209.3" r="2.6"/>
<circle cx="110.7" cy="207.1" r="2.6"/>
<circle cx="110.9" cy="211.5" r="2.6"/>
<circle cx="110.3" cy="207.9" r="2.6"/>
<circle cx="117.4" cy="208.0" r="2.6"/>
<circle cx="109.9" cy="211.2" r="2.6"/>
<circle cx="116.9" cy="208.3" r="2.6"/>
<circle cx="116.2" cy="203.4" r="2.6"/>
<circle cx="119.0" cy="205.2" r="2.6"/>
<circle cx="113.5" cy="203.8" r="2.6"/>
<circle cx="124.3" cy="209.1" r="2.6"/>
<circle cx="114.6" cy="210.2" r="2.6"/>
<circle cx="125.3" cy="201.7" r="2.6"/>
<circle cx="114.5" cy="211.5" r="2.6"/>
<circle cx="114.3" cy="211.6" r="2.6"/>
<circle cx="124.7" cy="199.4" r="2.6"/>
<circle cx="112.5" cy="208.4" r="2.6"/>
<circle cx="121.6" cy="211.6" r="2.6"/>
<circle cx="120.6" cy="212.9" r="2.6"/>
<circle cx="110.6" cy="209.8" r="2.6"/>
<circle cx="123.6" cy="211.2" r="2.6"/>
<circle cx="109.2" cy="213.5" r="2.6"/>
<circle cx="121.4" cy="212.4" r="2.6"/>
<circle cx="114.1" cy="210.8" r="2.6"/>
<circle cx="125.7" cy="212.5" r="2.6"/>
<circle cx="118.3" cy="212.7" r="2.6"/>
<circle cx="126.5" cy="211.8" r="2.6"/>
<circle cx="119.8" cy="213.3" r="2.6"/>
<circle cx="109.8" cy="210.1" r="2.6"/>
<circle cx="118.0" cy="204.5" r="2.6"/>
<circle cx="122.2" cy="201.2" r="2.6"/>
<circle cx="119.3" cy="206.3" r="2.6"/>
<circle cx="113.3" cy="210.9" r="2.6"/>
<circle cx="110.7" cy="210.2" r="2.6"/>
<circle cx="123.7" cy="213.5" r="2.6"/>
<circle cx="112.1" cy="209.2" r="2.6"/>
<circle cx="120.5" cy="204.6" r="2.6"/>
<circle cx="123.6" cy="203.7" r="2.6"/>
<circle cx="117.9" cy="207.5" r="2.6"/>
<circle cx="107.0" cy="206.8" r="2.6"/>
<circle cx="107.0" cy="210.2" r="2.6"/>
<circle cx="112.4" cy="213.5" r="2.6"/>
<circle cx="119.4" cy="202.6" r="2.6"/>
<circle cx="121.0" cy="205.1" r="2.6"/>
<circle cx="116.4" cy="211.5" r="2.6"/>
<circle cx="123.7" cy="213.0" r="2.6"/>
<circle cx="115.2" cy="207.9" r="2.6"/>
<circle cx="114.8" cy="208.0" r="2.6"/>
<circle cx="121.5" cy="208.1" r="2.6"/>
<circle cx="120.4" cy="204.0" r="2.6"/>
<circle cx="122.3" cy="213.3" r="2.6"/>
<circle cx="111.0" cy="211.3" r="2.6"/>
<circle cx="110.2" cy="206.1" r="2.6"/>
<circle cx="115.1" cy="206.4" r="2.6"/>
<circle cx="121.2" cy="209.4" r="2.6"/>
<circle cx="120.2" cy="213.3" r="2.6"/>
<circle cx="108.1" cy="208.0" r="2.6"/>
<circle cx="107.7" cy="210.9" r="2.6"/>
<circle cx="123.1" cy="210.4" r="2.6"/>
<circle cx="117.7" cy="212.5" r="2.6"/>
<circle cx="114.3" cy="205.7" r="2.6"/>
<circle cx="119.5" cy="201.4" r="2.6"/>
<circle cx="111.5" cy="205.4" r="2.6"/>
<circle cx="110.2" cy="206.6" r="2.6"/>
<circle cx="117.4" cy="204.7" r="2.6"/>
<circle cx="118.8" cy="212.1" r="2.6"/>
<circle cx="113.7" cy="206.0" r="2.6"/>
<circle cx="120.1" cy="211.2" r="2.6"/>
<circle cx="124.2" cy="208.7" r="2.6"/>
<circle cx="118.4" cy="212.5" r="2.6"/>
<circle cx="120.2" cy="213.4" r="2.6"/>
<circle cx="112.6" cy="212.2" r="2.6"/>
<circle cx="119.3" cy="208.6" r="2.6"/>
<circle cx="107.2" cy="211.1" r="2.6"/>
<circle cx="112.1" cy="211.1" r="2.6"/>
<circle cx="116.9" cy="209.5" r="2.6"/>
<circle cx="108.1" cy="208.3" r="2.6"/>
<circle cx="118.8" cy="210.9" r="2.6"/>
<circle cx="126.3" cy="211.3" r="2.6"/>
<circle cx="112.7" cy="209.8" r="2.6"/>
<circle cx="116.9" cy="212.1" r="2.6"/>
<circle cx="114.7" cy="213.1" r="2.6"/>
<circle cx="116.4" cy="208.5" r="2.6"/>
<circle cx="116.4" cy="208.1" r="2.6"/>
<circle cx="126.5" cy="198.8" r="2.6"/>
<circle cx="114.8" cy="204.9" r="2.6"/>
<circle cx="120.2" cy="204.0" r="2.6"/>
<circle cx="109.9" cy="210.2" r="2.6"/>
<circle cx="118.7" cy="211.6" r="2.6"/>
<circle cx="115.7" cy="207.6" r="2.6"/>
<circle cx="114.2" cy="212.9" r="2.6"/>
<circle cx="111.2" cy="205.1" r="2.6"/>
<circle cx="124.3" cy="207.8" r="2.6"/>
<circle cx="109.6" cy="207.8" r="2.6"/>
<circle cx="124.4" cy="211.0" r="2.6"/>
<circle cx="108.3" cy="212.0" r="2.6"/>
<circle cx="111.2" cy="210.1" r="2.6"/>
<circle cx="118.8" cy="202.5" r="2.6"/>
<circle cx="125.2" cy="205.5" r="2.6"/>
<circle cx="109.8" cy="212.4" r="2.6"/>
<circle cx="109.1" cy="206.7" r="2.6"/>
<circle cx="119.7" cy="208.5" r="2.6"/>
<circle cx="124.6" cy="211.4" r="2.6"/>
<circle cx="111.0" cy="205.9" r="2.6"/>
<circle cx="118.8" cy="208.7" r="2.6"/>
<circle cx="112.9" cy="213.1" r="2.6"/>
<circle cx="111.1" cy="211.5" r="2.6"/>
<circle cx="108.4" cy="213.2" r="2.6"/>
<circle cx="125.5" cy="209.3" r="2.6"/>
<circle cx="113.2" cy="211.8" r="2.6"/>
<circle cx="124.6" cy="211.5" r="2.6"/>
<circle cx="107.8" cy="211.1" r="2.6"/>
<circle cx="109.7" cy="211.1" r="2.6"/>
<circle cx="125.5" cy="212.2" r="2.6"/>
<circle cx="111.9" cy="210.7" r="2.6"/>
<circle cx="113.2" cy="206.9" r="2.6"/>
<circle cx="121.5" cy="211.3" r="2.6"/>
<circle cx="113.6" cy="209.3" r="2.6"/>
<circle cx="120.6" cy="211.1" r="2.6"/>
<circle cx="116.0" cy="205.0" r="2.6"/>
<circle cx="108.9" cy="208.4" r="2.6"/>
<circle cx="123.1" cy="208.2" r="2.6"/>
<circle cx="119.6" cy="207.3" r="2.6"/>
<circle cx="114.2" cy="206.6" r="2.6"/>
<circle cx="126.0" cy="209.1" r="2.6"/>
<circle cx="109.5" cy="212.0" r="2.6"/>
<circle cx="118.7" cy="210.2" r="2.6"/>
<circle cx="122.0" cy="209.7" r="2.6"/>
<circle cx="124.1" cy="213.3" r="2.6"/>
<circle cx="114.9" cy="211.0" r="2.6"/>
<circle cx="114.3" cy="209.1" r="2.6"/>
<circle cx="114.1" cy="211.1" r="2.6"/>
<circle cx="113.9" cy="208.6" r="2.6"/>
<circle cx="123.5" cy="211.6" r="2.6"/>
<circle cx="120.2" cy="212.2" r="2.6"/>
<circle cx="114.5" cy="211.0" r="2.6"/>
<circle cx="111.9" cy="208.8" r="2.6"/>
<circle cx="109.0" cy="212.6" r="2.6"/>
<circle cx="125.0" cy="205.0" r="2.6"/>
<circle cx="114.4" cy="205.7" r="2.6"/>
<circle cx="109.8" cy="211.6" r="2.6"/>
<circle cx="124.4" cy="200.9" r="2.6"/>
<circle cx="112.0" cy="212.1" r="2.6"/>
<circle cx="111.4" cy="212.9" r="2.6"/>
<circle cx="113.9" cy="209.7" r="2.6"/>
<circle cx="110.9" cy="208.9" r="2.6"/>
<circle cx="115.3" cy="207.5" r="2.6"/>
<circle cx="121.2" cy="200.7" r="2.6"/>
<circle cx="119.5" cy="211.9" r="2.6"/>
<circle cx="113.4" cy="207.1" r="2.6"/>
<circle cx="109.3" cy="207.2" r="2.6"/>
<circle cx="122.4" cy="209.6" r="2.6"/>
<circle cx="107.3" cy="210.9" r="2.6"/>
<circle cx="118.7" cy="207.0" r="2.6"/>
<circle cx="107.7" cy="210.7" r="2.6"/>
<circle cx="113.9" cy="213.4" r="2.6"/>
<circle cx="114.0" cy="213.1" r="2.6"/>
<circle cx="123.9" cy="209.0" r="2.6"/>
<circle cx="109.5" cy="212.6" r="2.6"/>
<circle cx="108.8" cy="211.3" r="2.6"/>
<circle cx="108.9" cy="207.6" r="2.6"/>
<circle cx="115.0" cy="206.0" r="2.6"/>
<circle cx="126.3" cy="208.7" r="2.6"/>
<circle cx="124.5" cy="213.2" r="2.6"/>
<circle cx="121.8" cy="210.1" r="2.6"/>
<circle cx="116.2" cy="211.9" r="2.6"/>
<circle cx="120.1" cy="204.2" r="2.6"/>
<circle cx="117.3" cy="208.4" r="2.6"/>
<circle cx="117.1" cy="211.3" r="2.6"/>
<circle cx="120.4" cy="209.5" r="2.6"/>
<circle cx="122.4" cy="211.9" r="2.6"/>
<circle cx="108.8" cy="208.2" r="2.6"/>
<circle cx="107.9" cy="208.7" r="2.6"/>
<circle cx="125.7" cy="204.9" r="2.6"/>
<circle cx="115.6" cy="209.3" r="2.6"/>
<circle cx="118.0" cy="206.7" r="2.6"/>
<circle cx="122.2" cy="206.2" r="2.6"/>
<circle cx="123.5" cy="211.6" r="2.6"/>
<circle cx="107.0" cy="211.5" r="2.6"/>
<circle cx="108.8" cy="213.0" r="2.6"/>
<circle cx="108.4" cy="209.4" r="2.6"/>
<circle cx="122.0" cy="209.5" r="2.6"/>
<circle cx="120.0" cy="207.8" r="2.6"/>
<circle cx="117.2" cy="205.9" r="2.6"/>
<circle cx="116.0" cy="207.0" r="2.6"/>
<circle cx="120.2" cy="203.2" r="2.6"/>
<circle cx="109.7" cy="208.4" r="2.6"/>
<circle cx="117.4" cy="210.1" r="2.6"/>
<circle cx="107.1" cy="213.5" r="2.6"/>
<circle cx="123.3" cy="206.6" r="2.6"/>
<circle cx="110.1" cy="212.7" r="2.6"/>
<circle cx="126.1" cy="202.4" r="2.6"/>
<circle cx="121.7" cy="211.9" r="2.6"/>
</g>
<g fill="#4a74c9" stroke="#000" stroke-width="1.0">
<circle cx="125.1" cy="206.7" r="2.6"/>
<circle cx="102.3" cy="214.5" r="2.6"/>
<circle cx="105.4" cy="215.5" r="2.6"/>
<circle cx="124.3" cy="210.3" r="2.6"/>
<circle cx="102.5" cy="214.8" r="2.6"/>
<circle cx="105.7" cy="214.8" r="2.6"/>
<circle cx="119.0" cy="214.1" r="2.6"/>
<circle cx="111.1" cy="213.1" r="2.6"/>
<circle cx="112.0" cy="212.3" r="2.6"/>
<circle cx="111.7" cy="214.2" r="2.6"/>
<circle cx="118.8" cy="210.1" r="2.6"/>
<circle cx="114.8" cy="209.7" r="2.6"/>
<circle cx="100.3" cy="215.4" r="2.6"/>
<circle cx="109.0" cy="211.1" r="2.6"/>
<circle cx="101.2" cy="215.2" r="2.6"/>
<circle cx="125.2" cy="214.2" r="2.6"/>
<circle cx="99.8" cy="215.5" r="2.6"/>
<circle cx="109.2" cy="212.8" r="2.6"/>
<circle cx="102.8" cy="215.1" r="2.6"/>
<circle cx="122.3" cy="209.7" r="2.6"/>
<circle cx="103.9" cy="213.7" r="2.6"/>
<circle cx="99.4" cy="215.7" r="2.6"/>
<circle cx="105.4" cy="215.1" r="2.6"/>
<circle cx="121.0" cy="206.4" r="2.6"/>
<circle cx="104.3" cy="214.2" r="2.6"/>
<circle cx="120.4" cy="213.6" r="2.6"/>
<circle cx="107.4" cy="213.9" r="2.6"/>
<circle cx="108.9" cy="213.6" r="2.6"/>
<circle cx="121.1" cy="208.7" r="2.6"/>
<circle cx="121.5" cy="215.1" r="2.6"/>
<circle cx="115.7" cy="215.5" r="2.6"/>
<circle cx="125.1" cy="206.2" r="2.6"/>
<circle cx="126.6" cy="206.1" r="2.6"/>
<circle cx="121.4" cy="206.8" r="2.6"/>
<circle cx="107.4" cy="213.8" r="2.6"/>
<circle cx="122.3" cy="212.9" r="2.6"/>
<circle cx="104.7" cy="215.6" r="2.6"/>
<circle cx="123.1" cy="211.0" r="2.6"/>
<circle cx="100.4" cy="215.3" r="2.6"/>
<circle cx="107.1" cy="213.8" r="2.6"/>
<circle cx="125.2" cy="211.5" r="2.6"/>
<circle cx="121.8" cy="205.9" r="2.6"/>
<circle cx="105.8" cy="215.1" r="2.6"/>
<circle cx="108.5" cy="212.6" r="2.6"/>
<circle cx="100.8" cy="214.9" r="2.6"/>
<circle cx="110.5" cy="213.7" r="2.6"/>
<circle cx="110.1" cy="213.8" r="2.6"/>
<circle cx="107.1" cy="211.8" r="2.6"/>
<circle cx="117.7" cy="210.5" r="2.6"/>
<circle cx="112.7" cy="212.2" r="2.6"/>
<circle cx="106.5" cy="212.4" r="2.6"/>
<circle cx="107.2" cy="213.3" r="2.6"/>
<circle cx="102.2" cy="214.2" r="2.6"/>
<circle cx="112.4" cy="209.4" r="2.6"/>
<circle cx="123.4" cy="209.2" r="2.6"/>
<circle cx="111.3" cy="213.4" r="2.6"/>
<circle cx="99.7" cy="215.4" r="2.6"/>
<circle cx="120.8" cy="211.9" r="2.6"/>
<circle cx="112.7" cy="212.0" r="2.6"/>
<circle cx="119.9" cy="211.6" r="2.6"/>
<circle cx="121.0" cy="214.4" r="2.6"/>
<circle cx="123.8" cy="213.1" r="2.6"/>
<circle cx="117.7" cy="211.6" r="2.6"/>
<circle cx="113.8" cy="213.3" r="2.6"/>
<circle cx="113.6" cy="214.8" r="2.6"/>
<circle cx="122.9" cy="205.1" r="2.6"/>
<circle cx="119.9" cy="212.6" r="2.6"/>
<circle cx="115.6" cy="215.2" r="2.6"/>
<circle cx="100.4" cy="215.5" r="2.6"/>
<circle cx="109.4" cy="215.6" r="2.6"/>
<circle cx="103.6" cy="215.0" r="2.6"/>
<circle cx="103.0" cy="215.4" r="2.6"/>
<circle cx="112.6" cy="214.4" r="2.6"/>
<circle cx="107.5" cy="215.4" r="2.6"/>
<circle cx="99.2" cy="215.7" r="2.6"/>
<circle cx="119.4" cy="214.8" r="2.6"/>
<circle cx="120.6" cy="209.0" r="2.6"/>
<circle cx="101.3" cy="215.5" r="2.6"/>
<circle cx="119.3" cy="206.8" r="2.6"/>
<circle cx="125.0" cy="210.8" r="2.6"/>
<circle cx="99.9" cy="215.6" r="2.6"/>
<circle cx="108.4" cy="211.9" r="2.6"/>
<circle cx="123.6" cy="215.2" r="2.6"/>
<circle cx="102.4" cy="215.0" r="2.6"/>
<circle cx="106.6" cy="214.8" r="2.6"/>
<circle cx="102.1" cy="214.9" r="2.6"/>
<circle cx="110.4" cy="213.3" r="2.6"/>
<circle cx="111.1" cy="213.8" r="2.6"/>
<circle cx="125.1" cy="215.1" r="2.6"/>
<circle cx="124.2" cy="214.1" r="2.6"/>
<circle cx="105.3" cy="213.7" r="2.6"/>
<circle cx="111.8" cy="214.0" r="2.6"/>
<circle cx="115.9" cy="211.1" r="2.6"/>
<circle cx="126.6" cy="207.7" r="2.6"/>
<circle cx="99.5" cy="215.5" r="2.6"/>
<circle cx="104.8" cy="215.2" r="2.6"/>
<circle cx="122.4" cy="205.1" r="2.6"/>
<circle cx="105.6" cy="213.6" r="2.6"/>
<circle cx="120.9" cy="214.9" r="2.6"/>
<circle cx="106.3" cy="212.7" r="2.6"/>
<circle cx="125.9" cy="215.5" r="2.6"/>
<circle cx="118.9" cy="211.5" r="2.6"/>
<circle cx="119.8" cy="213.9" r="2.6"/>
<circle cx="113.2" cy="211.3" r="2.6"/>
<circle cx="113.6" cy="213.8" r="2.6"/>
<circle cx="108.0" cy="214.5" r="2.6"/>
<circle cx="103.1" cy="215.8" r="2.6"/>
<circle cx="104.9" cy="213.8" r="2.6"/>
<circle cx="125.7" cy="215.3" r="2.6"/>
<circle cx="124.7" cy="214.2" r="2.6"/>
<circle cx="122.6" cy="214.2" r="2.6"/>
<circle cx="114.8" cy="209.0" r="2.6"/>
<circle cx="119.3" cy="214.5" r="2.6"/>
<circle cx="122.3" cy="205.2" r="2.6"/>
<circle cx="100.7" cy="215.6" r="2.6"/>
<circle cx="112.6" cy="215.2" r="2.6"/>
<circle cx="126.5" cy="209.5" r="2.6"/>
<circle cx="117.8" cy="213.3" r="2.6"/>
<circle cx="118.3" cy="210.7" r="2.6"/>
<circle cx="116.8" cy="208.0" r="2.6"/>
<circle cx="124.0" cy="213.1" r="2.6"/>
<circle cx="121.3" cy="210.9" r="2.6"/>
<circle cx="104.7" cy="214.5" r="2.6"/>
<circle cx="117.9" cy="212.3" r="2.6"/>
<circle cx="102.0" cy="214.2" r="2.6"/>
<circle cx="110.1" cy="212.1" r="2.6"/>
<circle cx="105.3" cy="213.6" r="2.6"/>
<circle cx="110.6" cy="214.4" r="2.6"/>
<circle cx="124.4" cy="212.6" r="2.6"/>
<circle cx="99.6" cy="215.8" r="2.6"/>
<circle cx="115.9" cy="214.0" r="2.6"/>
<circle cx="116.1" cy="211.1" r="2.6"/>
<circle cx="108.4" cy="211.6" r="2.6"/>
<circle cx="117.5" cy="207.5" r="2.6"/>
<circle cx="117.9" cy="215.2" r="2.6"/>
<circle cx="117.6" cy="212.9" r="2.6"/>
<circle cx="121.5" cy="215.5" r="2.6"/>
<circle cx="121.6" cy="215.7" r="2.6"/>
<circle cx="111.8" cy="209.6" r="2.6"/>
<circle cx="116.1" cy="213.3" r="2.6"/>
<circle cx="123.0" cy="212.1" r="2.6"/>
<circle cx="109.1" cy="210.7" r="2.6"/>
<circle cx="122.1" cy="212.3" r="2.6"/>
<circle cx="126.4" cy="211.3" r="2.6"/>
<circle cx="122.7" cy="213.7" r="2.6"/>
<circle cx="126.5" cy="209.7" r="2.6"/>
<circle cx="123.9" cy="209.5" r="2.6"/>
<circle cx="99.3" cy="215.7" r="2.6"/>
<circle cx="108.8" cy="215.8" r="2.6"/>
<circle cx="110.0" cy="212.3" r="2.6"/>
<circle cx="118.2" cy="207.8" r="2.6"/>
<circle cx="107.5" cy="213.6" r="2.6"/>
<circle cx="102.5" cy="215.2" r="2.6"/>
<circle cx="110.8" cy="214.9" r="2.6"/>
<circle cx="108.4" cy="215.7" r="2.6"/>
<circle cx="104.4" cy="214.7" r="2.6"/>
<circle cx="105.3" cy="212.7" r="2.6"/>
<circle cx="107.4" cy="215.5" r="2.6"/>
<circle cx="107.1" cy="214.1" r="2.6"/>
<circle cx="113.6" cy="211.2" r="2.6"/>
<circle cx="113.9" cy="209.2" r="2.6"/>
<circle cx="108.7" cy="212.8" r="2.6"/>
<circle cx="121.7" cy="213.8" r="2.6"/>
<circle cx="118.5" cy="212.6" r="2.6"/>
<circle cx="123.1" cy="213.4" r="2.6"/>
<circle cx="100.5" cy="215.1" r="2.6"/>
<circle cx="119.8" cy="214.5" r="2.6"/>
<circle cx="126.5" cy="213.4" r="2.6"/>
<circle cx="103.4" cy="215.0" r="2.6"/>
<circle cx="116.4" cy="213.0" r="2.6"/>
<circle cx="102.7" cy="215.8" r="2.6"/>
<circle cx="113.2" cy="211.3" r="2.6"/>
<circle cx="126.3" cy="208.8" r="2.6"/>
<circle cx="100.9" cy="215.5" r="2.6"/>
<circle cx="106.2" cy="213.3" r="2.6"/>
<circle cx="107.4" cy="214.5" r="2.6"/>
<circle cx="107.9" cy="214.6" r="2.6"/>
<circle cx="124.2" cy="215.7" r="2.6"/>
<circle cx="123.7" cy="215.1" r="2.6"/>
<circle cx="106.0" cy="215.3" r="2.6"/>
<circle cx="101.5" cy="215.4" r="2.6"/>
<circle cx="101.1" cy="214.9" r="2.6"/>
<circle cx="125.4" cy="205.3" r="2.6"/>
<circle cx="118.9" cy="212.0" r="2.6"/>
<circle cx="99.0" cy="215.8" r="2.6"/>
<circle cx="100.7" cy="215.7" r="2.6"/>
<circle cx="121.8" cy="211.1" r="2.6"/>
<circle cx="111.4" cy="209.9" r="2.6"/>
<circle cx="118.5" cy="206.8" r="2.6"/>
<circle cx="113.6" cy="215.4" r="2.6"/>
<circle cx="117.9" cy="208.2" r="2.6"/>
<circle cx="119.0" cy="213.4" r="2.6"/>
<circle cx="108.2" cy="215.0" r="2.6"/>
<circle cx="115.1" cy="211.9" r="2.6"/>
<circle cx="113.6" cy="211.2" r="2.6"/>
<circle cx="107.0" cy="215.5" r="2.6"/>
<circle cx="108.7" cy="214.9" r="2.6"/>
<circle cx="109.2" cy="212.1" r="2.6"/>
<circle cx="99.0" cy="215.8" r="2.6"/>
<circle cx="119.9" cy="215.7" r="2.6"/>
<circle cx="115.4" cy="208.5" r="2.6"/>
<circle cx="103.5" cy="213.7" r="2.6"/>
<circle cx="116.0" cy="213.2" r="2.6"/>
<circle cx="125.6" cy="207.8" r="2.6"/>
<circle cx="105.5" cy="213.5" r="2.6"/>
<circle cx="103.1" cy="213.8" r="2.6"/>
<circle cx="112.7" cy="212.5" r="2.6"/>
<circle cx="109.2" cy="215.6" r="2.6"/>
<circle cx="107.7" cy="215.2" r="2.6"/>
<circle cx="113.8" cy="209.7" r="2.6"/>
<circle cx="99.8" cy="215.6" r="2.6"/>
<circle cx="123.3" cy="204.8" r="2.6"/>
<circle cx="118.5" cy="209.2" r="2.6"/>
<circle cx="118.1" cy="214.6" r="2.6"/>
<circle cx="119.2" cy="209.1" r="2.6"/>
<circle cx="103.3" cy="215.7" r="2.6"/>
<circle cx="124.5" cy="215.1" r="2.6"/>
<circle cx="114.0" cy="209.0" r="2.6"/>
<circle cx="109.3" cy="215.4" r="2.6"/>
<circle cx="100.9" cy="215.2" r="2.6"/>
<circle cx="100.2" cy="215.7" r="2.6"/>
<circle cx="108.8" cy="211.6" r="2.6"/>
<circle cx="108.9" cy="212.3" r="2.6"/>
<circle cx="111.0" cy="213.9" r="2.6"/>
<circle cx="117.3" cy="208.2" r="2.6"/>
<circle cx="113.9" cy="209.1" r="2.6"/>
<circle cx="111.3" cy="214.9" r="2.6"/>
<circle cx="106.3" cy="215.3" r="2.6"/>
<circle cx="105.8" cy="214.0" r="2.6"/>
<circle cx="121.0" cy="204.8" r="2.6"/>
<circle cx="114.4" cy="212.9" r="2.6"/>
<circle cx="118.9" cy="215.4" r="2.6"/>
<circle cx="118.3" cy="209.2" r="2.6"/>
<circle cx="104.5" cy="214.6" r="2.6"/>
<circle cx="106.8" cy="214.4" r="2.6"/>
<circle cx="101.5" cy="215.5" r="2.6"/>
<circle cx="110.6" cy="210.5" r="2.6"/>
<circle cx="102.4" cy="215.7" r="2.6"/>
<circle cx="122.6" cy="214.7" r="2.6"/>
<circle cx="109.8" cy="215.7" r="2.6"/>
<circle cx="103.7" cy="215.3" r="2.6"/>
<circle cx="125.2" cy="206.7" r="2.6"/>
<circle cx="99.1" cy="215.7" r="2.6"/>
<circle cx="101.3" cy="215.6" r="2.6"/>
<circle cx="115.9" cy="212.2" r="2.6"/>
<circle cx="102.2" cy="215.3" r="2.6"/>
<circle cx="102.8" cy="214.2" r="2.6"/>
<circle cx="115.5" cy="213.4" r="2.6"/>
<circle cx="121.3" cy="214.3" r="2.6"/>
<circle cx="102.8" cy="214.6" r="2.6"/>
<circle cx="103.0" cy="214.9" r="2.6"/>
<circle cx="99.8" cy="215.8" r="2.6"/>
<circle cx="118.0" cy="214.4" r="2.6"/>
<circle cx="112.6" cy="215.3" r="2.6"/>
<circle cx="122.2" cy="214.3" r="2.6"/>
<circle cx="121.4" cy="208.1" r="2.6"/>
<circle cx="108.6" cy="211.5" r="2.6"/>
<circle cx="120.2" cy="211.2" r="2.6"/>
<circle cx="126.4" cy="207.4" r="2.6"/>
<circle cx="111.0" cy="215.2" r="2.6"/>
<circle cx="125.9" cy="213.2" r="2.6"/>
<circle cx="123.5" cy="215.1" r="2.6"/>
<circle cx="106.6" cy="214.6" r="2.6"/>
<circle cx="100.8" cy="215.6" r="2.6"/>
<circle cx="125.5" cy="210.5" r="2.6"/>
<circle cx="103.1" cy="215.1" r="2.6"/>
<circle cx="100.8" cy="215.4" r="2.6"/>
<circle cx="101.2" cy="215.2" r="2.6"/>
<circle cx="121.7" cy="213.5" r="2.6"/>
<circle cx="122.7" cy="210.5" r="2.6"/>
<circle cx="111.3" cy="210.3" r="2.6"/>
<circle cx="120.9" cy="212.0" r="2.6"/>
<circle cx="110.3" cy="211.4" r="2.6"/>
<circle cx="111.7" cy="210.1" r="2.6"/>
<circle cx="102.3" cy="214.3" r="2.6"/>
<circle cx="110.8" cy="211.1" r="2.6"/>
<circle cx="122.0" cy="212.2" r="2.6"/>
<circle cx="123.1" cy="211.4" r="2.6"/>
<circle cx="103.4" cy="214.4" r="2.6"/>
<circle cx="122.3" cy="211.9" r="2.6"/>
<circle cx="117.0" cy="213.2" r="2.6"/>
<circle cx="100.3" cy="215.3" r="2.6"/>
<circle cx="111.0" cy="215.1" r="2.6"/>
<circle cx="125.2" cy="211.5" r="2.6"/>
<circle cx="106.2" cy="212.5" r="2.6"/>
<circle cx="114.5" cy="212.0" r="2.6"/>
<circle cx="124.9" cy="206.8" r="2.6"/>
<circle cx="104.7" cy="213.0" r="2.6"/>
<circle cx="99.8" cy="215.7" r="2.6"/>
<circle cx="123.2" cy="206.6" r="2.6"/>
<circle cx="99.4" cy="215.7" r="2.6"/>
<circle cx="105.9" cy="214.7" r="2.6"/>
<circle cx="124.3" cy="213.3" r="2.6"/>
<circle cx="106.8" cy="214.6" r="2.6"/>
<circle cx="107.0" cy="215.0" r="2.6"/>
<circle cx="106.2" cy="215.4" r="2.6"/>
<circle cx="117.9" cy="215.0" r="2.6"/>
<circle cx="108.6" cy="215.6" r="2.6"/>
<circle cx="115.2" cy="210.6" r="2.6"/>
<circle cx="117.0" cy="210.5" r="2.6"/>
<circle cx="102.2" cy="214.3" r="2.6"/>
<circle cx="116.0" cy="210.2" r="2.6"/>
<circle cx="101.8" cy="215.5" r="2.6"/>
<circle cx="102.9" cy="215.4" r="2.6"/>
<circle cx="106.6" cy="213.7" r="2.6"/>
<circle cx="124.9" cy="214.1" r="2.6"/>
<circle cx="122.2" cy="215.6" r="2.6"/>
<circle cx="115.8" cy="215.4" r="2.6"/>
<circle cx="116.3" cy="212.9" r="2.6"/>
<circle cx="108.0" cy="213.4" r="2.6"/>
</g>
<g fill="#4a74c9" stroke="#0b1230" stroke-width="0.45">
<circle cx="126.9" cy="134.1" r="2.75"/>
<circle cx="126.7" cy="137.8" r="2.75"/>
<circle cx="126.9" cy="141.9" r="2.75"/>
<circle cx="127.1" cy="146.4" r="2.75"/>
<circle cx="127.0" cy="150.5" r="2.75"/>
<circle cx="126.7" cy="154.7" r="2.75"/>
<circle cx="126.5" cy="158.5" r="2.75"/>
<circle cx="126.8" cy="162.0" r="2.75"/>
<circle cx="126.8" cy="166.0" r="2.75"/>
<circle cx="127.1" cy="170.0" r="2.75"/>
<circle cx="126.9" cy="174.0" r="2.75"/>
<circle cx="126.9" cy="178.0" r="2.75"/>
<circle cx="126.9" cy="182.0" r="2.75"/>
<circle cx="126.9" cy="186.0" r="2.75"/>
<circle cx="127.0" cy="190.0" r="2.75"/>
<circle cx="126.9" cy="194.0" r="2.75"/>
<circle cx="126.9" cy="198.0" r="2.75"/>
<circle cx="126.7" cy="202.0" r="2.75"/>
<circle cx="126.6" cy="206.0" r="2.75"/>
<circle cx="126.8" cy="209.5" r="2.75"/>
<circle cx="127.1" cy="212.4" r="2.75"/>
<circle cx="118.3" cy="82.8" r="2.75"/>
<circle cx="122.2" cy="125.6" r="2.75"/>
<circle cx="122.8" cy="144.4" r="2.75"/>
<circle cx="114.9" cy="149.3" r="2.75"/>
<circle cx="119.9" cy="156.7" r="2.75"/>
<circle cx="121.9" cy="157.9" r="2.75"/>
<circle cx="110.0" cy="160.4" r="2.75"/>
<circle cx="116.7" cy="161.6" r="2.75"/>
<circle cx="121.1" cy="160.4" r="2.75"/>
<circle cx="105.8" cy="169.7" r="2.75"/>
<circle cx="123.5" cy="169.0" r="2.75"/>
<circle cx="90.4" cy="190.3" r="2.75"/>
<circle cx="105.6" cy="189.9" r="2.75"/>
<circle cx="87.9" cy="195.3" r="2.75"/>
<circle cx="95.3" cy="203.9" r="2.75"/>
<circle cx="98.2" cy="204.4" r="2.75"/>
<circle cx="104.6" cy="197.2" r="2.75"/>
<circle cx="108.8" cy="199.0" r="2.75"/>
<circle cx="102.7" cy="202.9" r="2.75"/>
<circle cx="106.4" cy="203.4" r="2.75"/>
<circle cx="110.0" cy="204.6" r="2.75"/>
<circle cx="113.7" cy="202.1" r="2.75"/>
<circle cx="116.2" cy="199.7" r="2.75"/>
<circle cx="118.6" cy="197.3" r="2.75"/>
<circle cx="121.1" cy="194.8" r="2.75"/>
<circle cx="122.3" cy="188.7" r="2.75"/>
<circle cx="118.6" cy="188.7" r="2.75"/>
<circle cx="121.1" cy="182.5" r="2.75"/>
<circle cx="123.0" cy="176.0" r="2.75"/>
</g>
<g fill="#bdbdbd" stroke="#141414" stroke-width="0.45">
<circle cx="128.8" cy="126.1" r="2.75"/>
<circle cx="129.0" cy="135.9" r="2.75"/>
<circle cx="129.4" cy="139.5" r="2.75"/>
<circle cx="130.2" cy="153.8" r="2.75"/>
<circle cx="130.4" cy="158.9" r="2.75"/>
<circle cx="130.6" cy="164.0" r="2.75"/>
<circle cx="131.3" cy="169.6" r="2.75"/>
<circle cx="131.0" cy="172.5" r="2.75"/>
<circle cx="131.3" cy="176.0" r="2.75"/>
<circle cx="131.6" cy="179.5" r="2.75"/>
<circle cx="131.7" cy="183.0" r="2.75"/>
<circle cx="131.9" cy="186.5" r="2.75"/>
<circle cx="132.1" cy="190.0" r="2.75"/>
<circle cx="132.6" cy="193.5" r="2.75"/>
<circle cx="132.6" cy="197.0" r="2.75"/>
<circle cx="133.1" cy="200.5" r="2.75"/>
<circle cx="133.2" cy="204.0" r="2.75"/>
<circle cx="133.5" cy="207.5" r="2.75"/>
<circle cx="133.6" cy="210.5" r="2.75"/>
<circle cx="133.8" cy="213.0" r="2.75"/>
</g>
<line x1="175.4" y1="160.8" x2="156" y2="195" stroke="#222" stroke-width="0.7"/>
<path d="M152.2 191.4 L161 195.8 L153.9 201.2 Z" fill="#000"/>
<g fill="#ec4f88" stroke="#2a0a18" stroke-width="0.45">
<circle cx="154.2" cy="206.8" r="2.75"/>
<circle cx="155.2" cy="213.3" r="2.75"/>
<circle cx="150.2" cy="206.4" r="2.75"/>
<circle cx="159.1" cy="212.8" r="2.75"/>
<circle cx="148.5" cy="189.3" r="2.75"/>
<circle cx="151.1" cy="191.6" r="2.75"/>
<circle cx="149.4" cy="213.9" r="2.75"/>
<circle cx="148.5" cy="210.2" r="2.75"/>
<circle cx="158.4" cy="213.4" r="2.75"/>
<circle cx="149.6" cy="210.5" r="2.75"/>
<circle cx="154.9" cy="212.8" r="2.75"/>
<circle cx="148.9" cy="210.4" r="2.75"/>
<circle cx="149.4" cy="194.8" r="2.75"/>
<circle cx="150.8" cy="208.7" r="2.75"/>
<circle cx="154.4" cy="213.4" r="2.75"/>
<circle cx="150.1" cy="196.0" r="2.75"/>
<circle cx="151.2" cy="210.2" r="2.75"/>
<circle cx="153.0" cy="210.5" r="2.75"/>
<circle cx="149.3" cy="207.1" r="2.75"/>
<circle cx="148.6" cy="213.7" r="2.75"/>
<circle cx="151.8" cy="188.4" r="2.75"/>
<circle cx="148.6" cy="194.4" r="2.75"/>
<circle cx="151.0" cy="191.8" r="2.75"/>
<circle cx="148.6" cy="209.8" r="2.75"/>
<circle cx="148.5" cy="191.5" r="2.75"/>
<circle cx="149.7" cy="188.4" r="2.75"/>
<circle cx="152.6" cy="190.0" r="2.75"/>
<circle cx="149.5" cy="189.5" r="2.75"/>
<circle cx="151.1" cy="192.1" r="2.75"/>
<circle cx="158.3" cy="207.3" r="2.75"/>
<circle cx="148.8" cy="191.8" r="2.75"/>
<circle cx="148.7" cy="187.9" r="2.75"/>
<circle cx="157.9" cy="205.3" r="2.75"/>
<circle cx="156.5" cy="209.6" r="2.75"/>
<circle cx="149.0" cy="189.8" r="2.75"/>
<circle cx="153.1" cy="212.5" r="2.75"/>
<circle cx="158.1" cy="209.0" r="2.75"/>
<circle cx="151.5" cy="190.4" r="2.75"/>
<circle cx="155.8" cy="211.9" r="2.75"/>
<circle cx="148.5" cy="207.9" r="2.75"/>
<circle cx="152.0" cy="191.0" r="2.75"/>
<circle cx="151.6" cy="191.2" r="2.75"/>
<circle cx="149.4" cy="190.2" r="2.75"/>
<circle cx="148.5" cy="190.4" r="2.75"/>
<circle cx="158.7" cy="211.5" r="2.75"/>
<circle cx="148.5" cy="196.9" r="2.75"/>
<circle cx="154.9" cy="206.8" r="2.75"/>
<circle cx="151.6" cy="188.2" r="2.75"/>
<circle cx="149.4" cy="188.8" r="2.75"/>
<circle cx="156.2" cy="208.0" r="2.75"/>
<circle cx="154.6" cy="208.6" r="2.75"/>
<circle cx="149.2" cy="188.8" r="2.75"/>
<circle cx="154.1" cy="202.2" r="2.75"/>
<circle cx="157.5" cy="213.6" r="2.75"/>
<circle cx="155.3" cy="207.8" r="2.75"/>
<circle cx="151.4" cy="189.8" r="2.75"/>
<circle cx="153.7" cy="201.8" r="2.75"/>
<circle cx="151.8" cy="210.9" r="2.75"/>
<circle cx="156.1" cy="207.4" r="2.75"/>
<circle cx="155.8" cy="208.8" r="2.75"/>
<circle cx="153.3" cy="213.2" r="2.75"/>
<circle cx="149.5" cy="187.3" r="2.75"/>
<circle cx="157.1" cy="213.3" r="2.75"/>
<circle cx="148.5" cy="194.5" r="2.75"/>
<circle cx="149.1" cy="210.8" r="2.75"/>
<circle cx="150.2" cy="209.5" r="2.75"/>
<circle cx="151.4" cy="209.1" r="2.75"/>
<circle cx="148.8" cy="193.9" r="2.75"/>
<circle cx="156.2" cy="212.3" r="2.75"/>
<circle cx="156.2" cy="202.3" r="2.75"/>
<circle cx="149.9" cy="191.9" r="2.75"/>
<circle cx="153.7" cy="201.9" r="2.75"/>
<circle cx="155.8" cy="212.8" r="2.75"/>
<circle cx="152.3" cy="188.3" r="2.75"/>
<circle cx="154.7" cy="207.6" r="2.75"/>
<circle cx="154.2" cy="210.1" r="2.75"/>
<circle cx="149.1" cy="193.8" r="2.75"/>
<circle cx="150.5" cy="187.7" r="2.75"/>
<circle cx="152.4" cy="206.9" r="2.75"/>
<circle cx="154.9" cy="211.4" r="2.75"/>
<circle cx="152.1" cy="211.3" r="2.75"/>
<circle cx="150.9" cy="209.8" r="2.75"/>
<circle cx="155.8" cy="212.7" r="2.75"/>
<circle cx="150.3" cy="191.2" r="2.75"/>
<circle cx="149.5" cy="196.8" r="2.75"/>
<circle cx="149.1" cy="197.8" r="2.75"/>
<circle cx="152.0" cy="208.5" r="2.75"/>
<circle cx="158.1" cy="213.3" r="2.75"/>
<circle cx="156.6" cy="206.0" r="2.75"/>
<circle cx="158.4" cy="211.7" r="2.75"/>
<circle cx="150.0" cy="188.9" r="2.75"/>
<circle cx="151.3" cy="187.2" r="2.75"/>
<circle cx="150.2" cy="189.0" r="2.75"/>
<circle cx="153.3" cy="212.8" r="2.75"/>
<circle cx="150.3" cy="194.3" r="2.75"/>
<circle cx="152.2" cy="212.9" r="2.75"/>
<circle cx="157.4" cy="205.1" r="2.75"/>
<circle cx="149.8" cy="189.2" r="2.75"/>
<circle cx="153.3" cy="206.5" r="2.75"/>
<circle cx="148.6" cy="189.5" r="2.75"/>
<circle cx="150.0" cy="191.8" r="2.75"/>
<circle cx="149.9" cy="191.9" r="2.75"/>
<circle cx="148.5" cy="190.1" r="2.75"/>
<circle cx="148.9" cy="191.3" r="2.75"/>
<circle cx="149.2" cy="206.7" r="2.75"/>
<circle cx="150.8" cy="190.8" r="2.75"/>
<circle cx="148.6" cy="197.1" r="2.75"/>
<circle cx="152.4" cy="209.2" r="2.75"/>
<circle cx="149.5" cy="209.3" r="2.75"/>
<circle cx="148.8" cy="191.2" r="2.75"/>
<circle cx="158.5" cy="212.3" r="2.75"/>
<circle cx="154.4" cy="214.0" r="2.75"/>
<circle cx="154.3" cy="206.8" r="2.75"/>
<circle cx="148.8" cy="205.3" r="2.75"/>
<circle cx="149.1" cy="194.9" r="2.75"/>
<circle cx="153.2" cy="207.6" r="2.75"/>
<circle cx="148.4" cy="197.6" r="2.75"/>
<circle cx="148.6" cy="188.6" r="2.75"/>
<circle cx="158.0" cy="213.0" r="2.75"/>
<circle cx="150.4" cy="189.8" r="2.75"/>
<circle cx="150.3" cy="153.6" r="2.75"/>
<circle cx="149.8" cy="157.0" r="2.75"/>
<circle cx="150.4" cy="160.7" r="2.75"/>
<circle cx="149.6" cy="164.5" r="2.75"/>
<circle cx="150.4" cy="168.0" r="2.75"/>
<circle cx="149.2" cy="171.3" r="2.75"/>
<circle cx="150.0" cy="174.2" r="2.75"/>
<circle cx="149.8" cy="177.0" r="2.75"/>
<circle cx="150.1" cy="181.1" r="2.75"/>
<circle cx="148.8" cy="184.5" r="2.75"/>
<circle cx="149.4" cy="132.7" r="2.75"/>
<circle cx="154.5" cy="139.7" r="2.75"/>
<circle cx="157.8" cy="146.3" r="2.75"/>
<circle cx="150.5" cy="148.0" r="2.75"/>
<circle cx="150.5" cy="153.8" r="2.75"/>
<circle cx="152.2" cy="164.5" r="2.75"/>
<circle cx="150.9" cy="167.9" r="2.75"/>
<circle cx="150.6" cy="169.8" r="2.75"/>
<circle cx="149.5" cy="176.9" r="2.75"/>
<circle cx="149.8" cy="180.5" r="2.75"/>
<circle cx="148.2" cy="201.4" r="2.75"/>
<circle cx="148.9" cy="198.6" r="2.75"/>
<circle cx="149.5" cy="204.4" r="2.75"/>
</g>
<path d="M150.5 197.6 C148.2 200.6 149.2 204.6 154.4 205.1" fill="none" stroke="#efe000" stroke-width="1.7" stroke-linecap="round"/>
<g fill="#ec4f88" stroke="#2a0a18" stroke-width="0.45">
<circle cx="157.6" cy="187.1" r="2.75"/>
<circle cx="155.3" cy="189.8" r="2.75"/>
<circle cx="162.3" cy="198.2" r="2.75"/>
<circle cx="156.8" cy="203.0" r="2.75"/>
<circle cx="158.2" cy="205.6" r="2.75"/>
<circle cx="158.4" cy="209.2" r="2.75"/>
<circle cx="159.6" cy="212.6" r="2.75"/>
</g>

<path d="M44.6 45.4V228.1H193.6" fill="none" stroke="#000" stroke-width="1.3"/>
<line x1="37.6" y1="45.8" x2="44.6" y2="45.8" stroke="#000" stroke-width="1.3"/>
<text class="b" x="34.3" y="49.7" font-size="11" text-anchor="end">60</text>
<line x1="37.6" y1="103.5" x2="44.6" y2="103.5" stroke="#000" stroke-width="1.3"/>
<text class="b" x="34.3" y="107.4" font-size="11" text-anchor="end">40</text>
<line x1="37.6" y1="161.2" x2="44.6" y2="161.2" stroke="#000" stroke-width="1.3"/>
<text class="b" x="34.3" y="165.1" font-size="11" text-anchor="end">20</text>
<line x1="37.6" y1="218.9" x2="44.6" y2="218.9" stroke="#000" stroke-width="1.3"/>
<text class="b" x="34.3" y="222.8" font-size="11" text-anchor="end">0</text>
<line x1="63.3" y1="228.1" x2="63.3" y2="234.6" stroke="#000" stroke-width="1.3"/>
<text class="b" x="63.0" y="247.7" font-size="11.4" text-anchor="middle">-4</text>
<line x1="100.7" y1="228.1" x2="100.7" y2="234.6" stroke="#000" stroke-width="1.3"/>
<text class="b" x="100.4" y="247.7" font-size="11.4" text-anchor="middle">-2</text>
<line x1="138.0" y1="228.1" x2="138.0" y2="234.6" stroke="#000" stroke-width="1.3"/>
<text class="b" x="138.0" y="247.7" font-size="11.4" text-anchor="middle">0</text>
<line x1="175.3" y1="228.1" x2="175.3" y2="234.6" stroke="#000" stroke-width="1.3"/>
<text class="b" x="175.3" y="247.7" font-size="11.4" text-anchor="middle">2</text>
<text class="b" x="69.5" y="265" font-size="12">log<tspan font-size="8.8" dy="3.3">2</tspan><tspan dy="-3.3"> (fold change)</tspan></text>
<text class="b" transform="translate(10.3,173.8) rotate(-90)" font-size="11.8">-log<tspan font-size="8.9" dy="3.3">10</tspan><tspan dy="-3.3"> (p</tspan><tspan font-size="8.9" dy="3.3">value</tspan><tspan dy="-3.4">)</tspan></text>
<rect x="167.4" y="140.9" width="64.5" height="19.9" fill="#fff" stroke="#8a8a8a" stroke-width="0.9"/>
<text class="i" x="172.2" y="156" font-size="12.3">Tmem123</text>
</g>
<g id="B">
<rect x="474.6" y="49.8" width="141.3" height="14.0" fill="#4a74c9" stroke="#000" stroke-width="2"/>
<line x1="466.2" y1="56.6" x2="474.4" y2="56.6" stroke="#000" stroke-width="1.8"/>
<text class="b" x="461.9" y="60.1" font-size="10.86" text-anchor="end">S1P2 receptor activation signaling</text>
<rect x="474.6" y="71.5" width="140.0" height="14.0" fill="#4a74c9" stroke="#000" stroke-width="2"/>
<line x1="466.2" y1="77.5" x2="474.4" y2="77.5" stroke="#000" stroke-width="1.8"/>
<text class="b" x="461.9" y="81.0" font-size="10.86" text-anchor="end">HTR2A signaling</text>
<rect x="474.6" y="92.6" width="135.3" height="14.0" fill="#4a74c9" stroke="#000" stroke-width="2"/>
<line x1="466.2" y1="98.5" x2="474.4" y2="98.5" stroke="#000" stroke-width="1.8"/>
<text class="b" x="461.9" y="102.0" font-size="10.86" text-anchor="end">Immune response_Plasmin signaling</text>
<rect x="474.6" y="113.5" width="131.4" height="14.0" fill="#4a74c9" stroke="#000" stroke-width="2"/>
<line x1="466.2" y1="119.4" x2="474.4" y2="119.4" stroke="#000" stroke-width="1.8"/>
<text class="b" x="461.9" y="122.9" font-size="10.86" text-anchor="end">Gonadotropin-reelasing (GnRH) signaling</text>
<rect x="474.6" y="134.3" width="129.6" height="14.0" fill="#4a74c9" stroke="#000" stroke-width="2"/>
<line x1="466.2" y1="140.4" x2="474.4" y2="140.4" stroke="#000" stroke-width="1.8"/>
<text class="b" x="461.9" y="143.9" font-size="10.86" text-anchor="end">Gastrin in differentiation of gastric mucosa</text>
<rect x="474.6" y="155.2" width="120.2" height="14.0" fill="#4a74c9" stroke="#000" stroke-width="2"/>
<line x1="466.2" y1="161.3" x2="474.4" y2="161.3" stroke="#000" stroke-width="1.8"/>
<text class="b" x="461.9" y="164.8" font-size="10.86" text-anchor="end">Signal transduction_FGFR signaling</text>
<rect x="474.6" y="176.0" width="111.4" height="14.0" fill="#4a74c9" stroke="#000" stroke-width="2"/>
<line x1="466.2" y1="182.3" x2="474.4" y2="182.3" stroke="#000" stroke-width="1.8"/>
<text class="b" x="461.9" y="185.8" font-size="10.86" text-anchor="end">Melatonin signaling in peripheral tissues</text>
<path d="M474.4 43.3V195.2H659.0" fill="none" stroke="#000" stroke-width="1.8"/>
<line x1="474.4" y1="195.2" x2="474.4" y2="202.7" stroke="#000" stroke-width="1.7"/>
<text class="b" x="474.4" y="215.6" font-size="12" text-anchor="middle">0</text>
<line x1="535.7" y1="195.2" x2="535.7" y2="202.7" stroke="#000" stroke-width="1.7"/>
<text class="b" x="535.7" y="215.6" font-size="12" text-anchor="middle">2</text>
<line x1="597.0" y1="195.2" x2="597.0" y2="202.7" stroke="#000" stroke-width="1.7"/>
<text class="b" x="597.0" y="215.6" font-size="12" text-anchor="middle">4</text>
<line x1="658.3" y1="195.2" x2="658.3" y2="202.7" stroke="#000" stroke-width="1.7"/>
<text class="b" x="658.3" y="215.6" font-size="12" text-anchor="middle">6</text>
<text class="b" x="522.8" y="234.8" font-size="12.8">-log<tspan font-size="10.4" dy="-4.6">10</tspan><tspan dy="4.6"> (pValue)</tspan></text>
<text class="b" x="635.4" y="38.7" font-size="13.2">FDR</text>
<text x="625" y="59.8" font-size="10.2">1.642E-03</text>
<text x="625" y="78" font-size="10.2">1.642E-03</text>
<text x="625" y="96.3" font-size="10.2">1.642E-03</text>
<text x="625" y="114.6" font-size="10.2">2.051E-03</text>
<text x="625" y="133.5" font-size="10.2">2.412E-03</text>
<text x="625" y="152.7" font-size="10.2">2.602E-03</text>
<text x="625" y="172.5" font-size="10.2">3.999E-03</text>
<text x="625" y="189.5" font-size="10.2">5.856E-03</text>
</g>
<g id="C">
<g>
<rect x="62.90" y="391.53" width="18.70" height="75.47" fill="#6e6e70" stroke="#000" stroke-width="1.6"/>
<path d="M72.2 390.7V385.4M66.8 385.4H77.8" fill="none" stroke="#000" stroke-width="1.2"/>
<line x1="72.2" y1="467.0" x2="72.2" y2="473.5" stroke="#000" stroke-width="1.5"/>
<text class="b" x="72.2" y="486.4" font-size="11.2" text-anchor="middle">Unt</text>
<rect x="93.55" y="402.62" width="18.70" height="64.38" fill="#4a74c9" stroke="#000" stroke-width="1.6"/>
<path d="M102.9 401.8V398.5M97.4 398.5H108.4" fill="none" stroke="#000" stroke-width="1.2"/>
<line x1="102.9" y1="467.0" x2="102.9" y2="473.5" stroke="#000" stroke-width="1.5"/>
<text class="b" x="102.9" y="486.4" font-size="11.2" text-anchor="middle">Ctr</text>
<rect x="124.20" y="391.61" width="18.70" height="75.39" fill="#ec4f88" stroke="#000" stroke-width="1.6"/>
<path d="M133.6 390.8V386.7M128.1 386.7H139.1" fill="none" stroke="#000" stroke-width="1.2"/>
<line x1="133.6" y1="467.0" x2="133.6" y2="473.5" stroke="#000" stroke-width="1.5"/>
<text class="b" x="133.6" y="486.4" font-size="11.2" text-anchor="middle">CAC</text>
<circle cx="72.2" cy="369.8" r="2.2" fill="none" stroke="#000" stroke-width="1"/>
<circle cx="72.2" cy="380.2" r="2.2" fill="none" stroke="#000" stroke-width="1"/>
<circle cx="72.2" cy="392.3" r="2.2" fill="none" stroke="#000" stroke-width="1"/>
<circle cx="67.8" cy="396.9" r="2.2" fill="none" stroke="#000" stroke-width="1"/>
<circle cx="76.6" cy="400.2" r="2.2" fill="none" stroke="#000" stroke-width="1"/>
<circle cx="72.2" cy="405.9" r="2.2" fill="none" stroke="#000" stroke-width="1"/>
<circle cx="98.9" cy="386.2" r="2.2" fill="none" stroke="#000" stroke-width="1"/>
<circle cx="106.8" cy="383.3" r="2.2" fill="none" stroke="#000" stroke-width="1"/>
<circle cx="110.7" cy="392.0" r="2.2" fill="none" stroke="#000" stroke-width="1"/>
<circle cx="102.9" cy="393.9" r="2.2" fill="none" stroke="#000" stroke-width="1"/>
<circle cx="102.9" cy="401.8" r="2.2" fill="none" stroke="#000" stroke-width="1"/>
<circle cx="95.2" cy="404.8" r="2.2" fill="none" stroke="#000" stroke-width="1"/>
<circle cx="110.4" cy="406.4" r="2.2" fill="none" stroke="#000" stroke-width="1"/>
<circle cx="102.9" cy="408.0" r="2.2" fill="none" stroke="#000" stroke-width="1"/>
<circle cx="102.9" cy="413.3" r="2.2" fill="none" stroke="#000" stroke-width="1"/>
<circle cx="95.2" cy="414.9" r="2.2" fill="none" stroke="#000" stroke-width="1"/>
<circle cx="110.4" cy="414.1" r="2.2" fill="none" stroke="#000" stroke-width="1"/>
<circle cx="135.6" cy="357.8" r="2.2" fill="none" stroke="#000" stroke-width="1"/>
<circle cx="132.2" cy="361.4" r="2.2" fill="none" stroke="#000" stroke-width="1"/>
<circle cx="131.7" cy="381.3" r="2.2" fill="none" stroke="#000" stroke-width="1"/>
<circle cx="135.3" cy="383.4" r="2.2" fill="none" stroke="#000" stroke-width="1"/>
<circle cx="125.5" cy="390.3" r="2.2" fill="none" stroke="#000" stroke-width="1"/>
<circle cx="141.4" cy="387.9" r="2.2" fill="none" stroke="#000" stroke-width="1"/>
<circle cx="128.0" cy="395.2" r="2.2" fill="none" stroke="#000" stroke-width="1"/>
<circle cx="131.7" cy="394.8" r="2.2" fill="none" stroke="#000" stroke-width="1"/>
<circle cx="135.3" cy="393.6" r="2.2" fill="none" stroke="#000" stroke-width="1"/>
<circle cx="139.4" cy="395.2" r="2.2" fill="none" stroke="#000" stroke-width="1"/>
<circle cx="125.5" cy="396.0" r="2.2" fill="none" stroke="#000" stroke-width="1"/>
<circle cx="128.8" cy="399.3" r="2.2" fill="none" stroke="#000" stroke-width="1"/>
<circle cx="134.8" cy="398.9" r="2.2" fill="none" stroke="#000" stroke-width="1"/>
<circle cx="138.6" cy="401.8" r="2.2" fill="none" stroke="#000" stroke-width="1"/>
<circle cx="128.8" cy="406.2" r="2.2" fill="none" stroke="#000" stroke-width="1"/>
<circle cx="134.8" cy="405.6" r="2.2" fill="none" stroke="#000" stroke-width="1"/>
<path d="M52.0 313.2V467.0H154.2" fill="none" stroke="#000" stroke-width="1.6"/>
<line x1="45.6" y1="467.0" x2="52.0" y2="467.0" stroke="#000" stroke-width="1.5"/>
<text x="42.7" y="471.6" font-size="11.7" text-anchor="end">0.0</text>
<line x1="45.6" y1="428.8" x2="52.0" y2="428.8" stroke="#000" stroke-width="1.5"/>
<text x="42.7" y="433.4" font-size="11.7" text-anchor="end">0.5</text>
<line x1="45.6" y1="390.5" x2="52.0" y2="390.5" stroke="#000" stroke-width="1.5"/>
<text x="42.7" y="395.1" font-size="11.7" text-anchor="end">1.0</text>
<line x1="45.6" y1="352.2" x2="52.0" y2="352.2" stroke="#000" stroke-width="1.5"/>
<text x="42.7" y="356.9" font-size="11.7" text-anchor="end">1.5</text>
<line x1="45.6" y1="314.0" x2="52.0" y2="314.0" stroke="#000" stroke-width="1.5"/>
<text x="42.7" y="318.6" font-size="11.7" text-anchor="end">2.0</text>
<text class="b" transform="translate(19.5,393.0) rotate(-90)" font-size="12.7" text-anchor="middle"><tspan class="i">Il6</tspan> (fold change)</text>
<line x1="102.2" y1="330" x2="134" y2="330" stroke="#000" stroke-width="1.5"/>
<text class="i" x="94.2" y="323.4" font-size="10.4">p = 0.0501</text>
</g>
<g>
<rect x="236.00" y="391.61" width="18.60" height="75.39" fill="#6e6e70" stroke="#000" stroke-width="1.6"/>
<path d="M245.3 390.8V388.2M239.8 388.2H250.8" fill="none" stroke="#000" stroke-width="1.2"/>
<line x1="245.3" y1="467.0" x2="245.3" y2="473.5" stroke="#000" stroke-width="1.5"/>
<text class="b" x="245.3" y="486.4" font-size="11.2" text-anchor="middle">Unt</text>
<rect x="266.65" y="409.43" width="18.60" height="57.57" fill="#4a74c9" stroke="#000" stroke-width="1.6"/>
<path d="M275.9 408.6V406.6M270.4 406.6H281.4" fill="none" stroke="#000" stroke-width="1.2"/>
<line x1="275.9" y1="467.0" x2="275.9" y2="473.5" stroke="#000" stroke-width="1.5"/>
<text class="b" x="275.9" y="486.4" font-size="11.2" text-anchor="middle">Ctr</text>
<rect x="297.30" y="400.79" width="18.60" height="66.21" fill="#ec4f88" stroke="#000" stroke-width="1.6"/>
<path d="M306.6 400.0V395.3M301.1 395.3H312.1" fill="none" stroke="#000" stroke-width="1.2"/>
<line x1="306.6" y1="467.0" x2="306.6" y2="473.5" stroke="#000" stroke-width="1.5"/>
<text class="b" x="306.6" y="486.4" font-size="11.2" text-anchor="middle">CAC</text>
<circle cx="247.9" cy="381.0" r="2.2" fill="none" stroke="#000" stroke-width="1"/>
<circle cx="242.3" cy="385.1" r="2.2" fill="none" stroke="#000" stroke-width="1"/>
<circle cx="237.6" cy="394.9" r="2.2" fill="none" stroke="#000" stroke-width="1"/>
<circle cx="242.8" cy="393.3" r="2.2" fill="none" stroke="#000" stroke-width="1"/>
<circle cx="247.9" cy="394.3" r="2.2" fill="none" stroke="#000" stroke-width="1"/>
<circle cx="253.0" cy="393.7" r="2.2" fill="none" stroke="#000" stroke-width="1"/>
<circle cx="274.1" cy="395.7" r="2.2" fill="none" stroke="#000" stroke-width="1"/>
<circle cx="277.6" cy="395.7" r="2.2" fill="none" stroke="#000" stroke-width="1"/>
<circle cx="274.3" cy="403.9" r="2.2" fill="none" stroke="#000" stroke-width="1"/>
<circle cx="268.6" cy="409.7" r="2.2" fill="none" stroke="#000" stroke-width="1"/>
<circle cx="283.7" cy="408.2" r="2.2" fill="none" stroke="#000" stroke-width="1"/>
<circle cx="271.0" cy="412.1" r="2.2" fill="none" stroke="#000" stroke-width="1"/>
<circle cx="275.5" cy="410.7" r="2.2" fill="none" stroke="#000" stroke-width="1"/>
<circle cx="277.8" cy="413.8" r="2.2" fill="none" stroke="#000" stroke-width="1"/>
<circle cx="281.3" cy="411.7" r="2.2" fill="none" stroke="#000" stroke-width="1"/>
<circle cx="283.7" cy="412.7" r="2.2" fill="none" stroke="#000" stroke-width="1"/>
<circle cx="275.7" cy="423.4" r="2.2" fill="none" stroke="#000" stroke-width="1"/>
<circle cx="306.3" cy="347.8" r="2.2" fill="none" stroke="#000" stroke-width="1"/>
<circle cx="304.8" cy="385.5" r="2.2" fill="none" stroke="#000" stroke-width="1"/>
<circle cx="308.3" cy="386.3" r="2.2" fill="none" stroke="#000" stroke-width="1"/>
<circle cx="305.5" cy="390.8" r="2.2" fill="none" stroke="#000" stroke-width="1"/>
<circle cx="308.3" cy="390.8" r="2.2" fill="none" stroke="#000" stroke-width="1"/>
<circle cx="301.8" cy="394.3" r="2.2" fill="none" stroke="#000" stroke-width="1"/>
<circle cx="304.8" cy="397.4" r="2.2" fill="none" stroke="#000" stroke-width="1"/>
<circle cx="308.3" cy="398.0" r="2.2" fill="none" stroke="#000" stroke-width="1"/>
<circle cx="304.8" cy="402.5" r="2.2" fill="none" stroke="#000" stroke-width="1"/>
<circle cx="298.7" cy="409.3" r="2.2" fill="none" stroke="#000" stroke-width="1"/>
<circle cx="302.2" cy="412.1" r="2.2" fill="none" stroke="#000" stroke-width="1"/>
<circle cx="305.5" cy="411.3" r="2.2" fill="none" stroke="#000" stroke-width="1"/>
<circle cx="308.3" cy="413.8" r="2.2" fill="none" stroke="#000" stroke-width="1"/>
<circle cx="311.4" cy="411.3" r="2.2" fill="none" stroke="#000" stroke-width="1"/>
<circle cx="314.1" cy="412.7" r="2.2" fill="none" stroke="#000" stroke-width="1"/>
<circle cx="306.5" cy="428.5" r="2.2" fill="none" stroke="#000" stroke-width="1"/>
<path d="M225.0 313.2V467.0H327.8" fill="none" stroke="#000" stroke-width="1.6"/>
<line x1="218.6" y1="467.0" x2="225.0" y2="467.0" stroke="#000" stroke-width="1.5"/>
<text x="215.7" y="471.6" font-size="11.7" text-anchor="end">0.0</text>
<line x1="218.6" y1="428.8" x2="225.0" y2="428.8" stroke="#000" stroke-width="1.5"/>
<text x="215.7" y="433.4" font-size="11.7" text-anchor="end">0.5</text>
<line x1="218.6" y1="390.5" x2="225.0" y2="390.5" stroke="#000" stroke-width="1.5"/>
<text x="215.7" y="395.1" font-size="11.7" text-anchor="end">1.0</text>
<line x1="218.6" y1="352.2" x2="225.0" y2="352.2" stroke="#000" stroke-width="1.5"/>
<text x="215.7" y="356.9" font-size="11.7" text-anchor="end">1.5</text>
<line x1="218.6" y1="314.0" x2="225.0" y2="314.0" stroke="#000" stroke-width="1.5"/>
<text x="215.7" y="318.6" font-size="11.7" text-anchor="end">2.0</text>
<text class="b" transform="translate(191.9,393.0) rotate(-90)" font-size="12.5" text-anchor="middle"><tspan class="i">Il1b</tspan> (fold change)</text>
<line x1="275.2" y1="328.1" x2="307.1" y2="328.1" stroke="#000" stroke-width="1.5"/>
<text class="i" x="266.9" y="321.4" font-size="10.4">p = 0.1623</text>
</g>
<g>
<rect x="399.10" y="393.18" width="18.00" height="73.82" fill="#6e6e70" stroke="#000" stroke-width="1.6"/>
<path d="M408.1 392.4V389.3M402.6 389.3H413.6" fill="none" stroke="#000" stroke-width="1.2"/>
<line x1="408.1" y1="467.0" x2="408.1" y2="473.5" stroke="#000" stroke-width="1.5"/>
<text class="b" x="408.1" y="486.4" font-size="11.2" text-anchor="middle">Unt</text>
<rect x="429.50" y="394.68" width="18.00" height="72.32" fill="#4a74c9" stroke="#000" stroke-width="1.6"/>
<path d="M438.5 393.9V391.5M433.0 391.5H444.0" fill="none" stroke="#000" stroke-width="1.2"/>
<line x1="438.5" y1="467.0" x2="438.5" y2="473.5" stroke="#000" stroke-width="1.5"/>
<text class="b" x="438.5" y="486.4" font-size="11.2" text-anchor="middle">Ctr</text>
<rect x="459.90" y="403.77" width="18.00" height="63.23" fill="#ec4f88" stroke="#000" stroke-width="1.6"/>
<path d="M468.9 403.0V397.0M463.4 397.0H474.4" fill="none" stroke="#000" stroke-width="1.2"/>
<line x1="468.9" y1="467.0" x2="468.9" y2="473.5" stroke="#000" stroke-width="1.5"/>
<text class="b" x="468.9" y="486.4" font-size="11.2" text-anchor="middle">CAC</text>
<circle cx="408.1" cy="380.4" r="2.2" fill="none" stroke="#000" stroke-width="1"/>
<circle cx="408.1" cy="387.8" r="2.2" fill="none" stroke="#000" stroke-width="1"/>
<circle cx="400.1" cy="393.4" r="2.2" fill="none" stroke="#000" stroke-width="1"/>
<circle cx="408.1" cy="395.2" r="2.2" fill="none" stroke="#000" stroke-width="1"/>
<circle cx="415.8" cy="395.2" r="2.2" fill="none" stroke="#000" stroke-width="1"/>
<circle cx="408.1" cy="400.7" r="2.2" fill="none" stroke="#000" stroke-width="1"/>
<circle cx="440.7" cy="379.2" r="2.2" fill="none" stroke="#000" stroke-width="1"/>
<circle cx="435.8" cy="382.3" r="2.2" fill="none" stroke="#000" stroke-width="1"/>
<circle cx="430.6" cy="389.3" r="2.2" fill="none" stroke="#000" stroke-width="1"/>
<circle cx="440.7" cy="388.7" r="2.2" fill="none" stroke="#000" stroke-width="1"/>
<circle cx="435.6" cy="392.8" r="2.2" fill="none" stroke="#000" stroke-width="1"/>
<circle cx="440.7" cy="392.8" r="2.2" fill="none" stroke="#000" stroke-width="1"/>
<circle cx="445.9" cy="395.2" r="2.2" fill="none" stroke="#000" stroke-width="1"/>
<circle cx="430.6" cy="394.3" r="2.2" fill="none" stroke="#000" stroke-width="1"/>
<circle cx="435.6" cy="397.0" r="2.2" fill="none" stroke="#000" stroke-width="1"/>
<circle cx="440.7" cy="399.4" r="2.2" fill="none" stroke="#000" stroke-width="1"/>
<circle cx="438.3" cy="419.6" r="2.2" fill="none" stroke="#000" stroke-width="1"/>
<circle cx="468.4" cy="365.1" r="2.2" fill="none" stroke="#000" stroke-width="1"/>
<circle cx="470.8" cy="375.5" r="2.2" fill="none" stroke="#000" stroke-width="1"/>
<circle cx="466.0" cy="378.2" r="2.2" fill="none" stroke="#000" stroke-width="1"/>
<circle cx="470.8" cy="381.4" r="2.2" fill="none" stroke="#000" stroke-width="1"/>
<circle cx="465.6" cy="384.5" r="2.2" fill="none" stroke="#000" stroke-width="1"/>
<circle cx="470.8" cy="390.6" r="2.2" fill="none" stroke="#000" stroke-width="1"/>
<circle cx="465.6" cy="394.3" r="2.2" fill="none" stroke="#000" stroke-width="1"/>
<circle cx="470.8" cy="397.0" r="2.2" fill="none" stroke="#000" stroke-width="1"/>
<circle cx="470.8" cy="409.6" r="2.2" fill="none" stroke="#000" stroke-width="1"/>
<circle cx="465.6" cy="414.2" r="2.2" fill="none" stroke="#000" stroke-width="1"/>
<circle cx="465.6" cy="418.8" r="2.2" fill="none" stroke="#000" stroke-width="1"/>
<circle cx="470.8" cy="417.7" r="2.2" fill="none" stroke="#000" stroke-width="1"/>
<circle cx="465.6" cy="424.7" r="2.2" fill="none" stroke="#000" stroke-width="1"/>
<circle cx="460.7" cy="429.3" r="2.2" fill="none" stroke="#000" stroke-width="1"/>
<circle cx="470.8" cy="429.3" r="2.2" fill="none" stroke="#000" stroke-width="1"/>
<circle cx="475.8" cy="425.6" r="2.2" fill="none" stroke="#000" stroke-width="1"/>
<path d="M388.0 315.9V467.0H489.0" fill="none" stroke="#000" stroke-width="1.6"/>
<line x1="381.6" y1="467.0" x2="388.0" y2="467.0" stroke="#000" stroke-width="1.5"/>
<text x="378.7" y="471.6" font-size="11.7" text-anchor="end">0.0</text>
<line x1="381.6" y1="429.4" x2="388.0" y2="429.4" stroke="#000" stroke-width="1.5"/>
<text x="378.7" y="434.0" font-size="11.7" text-anchor="end">0.5</text>
<line x1="381.6" y1="391.9" x2="388.0" y2="391.9" stroke="#000" stroke-width="1.5"/>
<text x="378.7" y="396.5" font-size="11.7" text-anchor="end">1.0</text>
<line x1="381.6" y1="354.3" x2="388.0" y2="354.3" stroke="#000" stroke-width="1.5"/>
<text x="378.7" y="358.9" font-size="11.7" text-anchor="end">1.5</text>
<line x1="381.6" y1="316.7" x2="388.0" y2="316.7" stroke="#000" stroke-width="1.5"/>
<text x="378.7" y="321.3" font-size="11.7" text-anchor="end">2.0</text>
<text class="b" transform="translate(356.5,394.4) rotate(-90)" font-size="12.0" text-anchor="middle"><tspan class="i">Tnfa</tspan> (fold change)</text>
<line x1="437.8" y1="329.7" x2="469" y2="329.7" stroke="#000" stroke-width="1.5"/>
<text class="i" x="429.5" y="323.1" font-size="10.4">p = 0.4221</text>
</g>
<g>
<rect x="572.90" y="407.42" width="18.00" height="59.38" fill="#6e6e70" stroke="#000" stroke-width="1.6"/>
<path d="M581.9 406.6V401.5M576.4 401.5H587.4" fill="none" stroke="#000" stroke-width="1.2"/>
<line x1="581.9" y1="466.8" x2="581.9" y2="473.3" stroke="#000" stroke-width="1.5"/>
<text class="b" x="581.9" y="486.4" font-size="11.2" text-anchor="middle">Unt</text>
<rect x="603.30" y="403.91" width="18.00" height="62.89" fill="#4a74c9" stroke="#000" stroke-width="1.6"/>
<path d="M612.3 403.1V398.4M606.8 398.4H617.8" fill="none" stroke="#000" stroke-width="1.2"/>
<line x1="612.3" y1="466.8" x2="612.3" y2="473.3" stroke="#000" stroke-width="1.5"/>
<text class="b" x="612.3" y="486.4" font-size="11.2" text-anchor="middle">Ctr</text>
<rect x="633.70" y="392.00" width="18.00" height="74.80" fill="#ec4f88" stroke="#000" stroke-width="1.6"/>
<path d="M642.7 391.2V387.5M637.2 387.5H648.2" fill="none" stroke="#000" stroke-width="1.2"/>
<line x1="642.7" y1="466.8" x2="642.7" y2="473.3" stroke="#000" stroke-width="1.5"/>
<text class="b" x="642.7" y="486.4" font-size="11.2" text-anchor="middle">CAC</text>
<circle cx="577.3" cy="397.8" r="2.2" fill="none" stroke="#000" stroke-width="1"/>
<circle cx="586.5" cy="394.3" r="2.2" fill="none" stroke="#000" stroke-width="1"/>
<circle cx="586.5" cy="400.7" r="2.2" fill="none" stroke="#000" stroke-width="1"/>
<circle cx="581.8" cy="405.2" r="2.2" fill="none" stroke="#000" stroke-width="1"/>
<circle cx="581.8" cy="413.4" r="2.2" fill="none" stroke="#000" stroke-width="1"/>
<circle cx="581.8" cy="427.1" r="2.2" fill="none" stroke="#000" stroke-width="1"/>
<circle cx="612.1" cy="377.3" r="2.2" fill="none" stroke="#000" stroke-width="1"/>
<circle cx="612.1" cy="382.6" r="2.2" fill="none" stroke="#000" stroke-width="1"/>
<circle cx="608.0" cy="389.2" r="2.2" fill="none" stroke="#000" stroke-width="1"/>
<circle cx="612.1" cy="393.7" r="2.2" fill="none" stroke="#000" stroke-width="1"/>
<circle cx="606.0" cy="406.6" r="2.2" fill="none" stroke="#000" stroke-width="1"/>
<circle cx="608.4" cy="408.0" r="2.2" fill="none" stroke="#000" stroke-width="1"/>
<circle cx="612.5" cy="408.6" r="2.2" fill="none" stroke="#000" stroke-width="1"/>
<circle cx="616.2" cy="407.6" r="2.2" fill="none" stroke="#000" stroke-width="1"/>
<circle cx="619.9" cy="406.2" r="2.2" fill="none" stroke="#000" stroke-width="1"/>
<circle cx="609.7" cy="413.4" r="2.2" fill="none" stroke="#000" stroke-width="1"/>
<circle cx="614.2" cy="414.2" r="2.2" fill="none" stroke="#000" stroke-width="1"/>
<circle cx="612.1" cy="424.4" r="2.2" fill="none" stroke="#000" stroke-width="1"/>
<circle cx="642.5" cy="361.1" r="2.2" fill="none" stroke="#000" stroke-width="1"/>
<circle cx="642.5" cy="367.0" r="2.2" fill="none" stroke="#000" stroke-width="1"/>
<circle cx="640.4" cy="377.9" r="2.2" fill="none" stroke="#000" stroke-width="1"/>
<circle cx="644.5" cy="377.3" r="2.2" fill="none" stroke="#000" stroke-width="1"/>
<circle cx="638.4" cy="383.0" r="2.2" fill="none" stroke="#000" stroke-width="1"/>
<circle cx="642.5" cy="384.7" r="2.2" fill="none" stroke="#000" stroke-width="1"/>
<circle cx="646.6" cy="385.1" r="2.2" fill="none" stroke="#000" stroke-width="1"/>
<circle cx="646.6" cy="391.2" r="2.2" fill="none" stroke="#000" stroke-width="1"/>
<circle cx="638.8" cy="394.9" r="2.2" fill="none" stroke="#000" stroke-width="1"/>
<circle cx="646.6" cy="398.4" r="2.2" fill="none" stroke="#000" stroke-width="1"/>
<circle cx="634.7" cy="401.1" r="2.2" fill="none" stroke="#000" stroke-width="1"/>
<circle cx="650.0" cy="401.1" r="2.2" fill="none" stroke="#000" stroke-width="1"/>
<circle cx="638.8" cy="403.9" r="2.2" fill="none" stroke="#000" stroke-width="1"/>
<circle cx="642.5" cy="405.6" r="2.2" fill="none" stroke="#000" stroke-width="1"/>
<circle cx="646.6" cy="405.2" r="2.2" fill="none" stroke="#000" stroke-width="1"/>
<circle cx="642.5" cy="412.1" r="2.2" fill="none" stroke="#000" stroke-width="1"/>
<circle cx="643.9" cy="394.3" r="2.2" fill="none" stroke="#000" stroke-width="1"/>
<path d="M561.8 314.8V466.8H662.8" fill="none" stroke="#000" stroke-width="1.6"/>
<line x1="555.4" y1="466.8" x2="561.8" y2="466.8" stroke="#000" stroke-width="1.5"/>
<text x="552.5" y="471.4" font-size="11.7" text-anchor="end">0.0</text>
<line x1="555.4" y1="436.6" x2="561.8" y2="436.6" stroke="#000" stroke-width="1.5"/>
<text x="552.5" y="441.2" font-size="11.7" text-anchor="end">0.5</text>
<line x1="555.4" y1="406.3" x2="561.8" y2="406.3" stroke="#000" stroke-width="1.5"/>
<text x="552.5" y="410.9" font-size="11.7" text-anchor="end">1.0</text>
<line x1="555.4" y1="376.1" x2="561.8" y2="376.1" stroke="#000" stroke-width="1.5"/>
<text x="552.5" y="380.7" font-size="11.7" text-anchor="end">1.5</text>
<line x1="555.4" y1="345.8" x2="561.8" y2="345.8" stroke="#000" stroke-width="1.5"/>
<text x="552.5" y="350.4" font-size="11.7" text-anchor="end">2.0</text>
<line x1="555.4" y1="315.6" x2="561.8" y2="315.6" stroke="#000" stroke-width="1.5"/>
<text x="552.5" y="320.2" font-size="11.7" text-anchor="end">2.5</text>
<text class="b" transform="translate(529,392.5) rotate(-90)" font-size="12.1" text-anchor="middle"><tspan class="i">Tmem123</tspan> (fold change)</text>
<line x1="609.4" y1="330.4" x2="646.8" y2="330.4" stroke="#000" stroke-width="1.5"/>
<text class="b" x="604.9" y="321.6" font-size="16">*</text>
<text class="i" x="611.8" y="321.8" font-size="10.4">p&lt;0.05</text>
</g>
</g>
</svg>
</body></html>
